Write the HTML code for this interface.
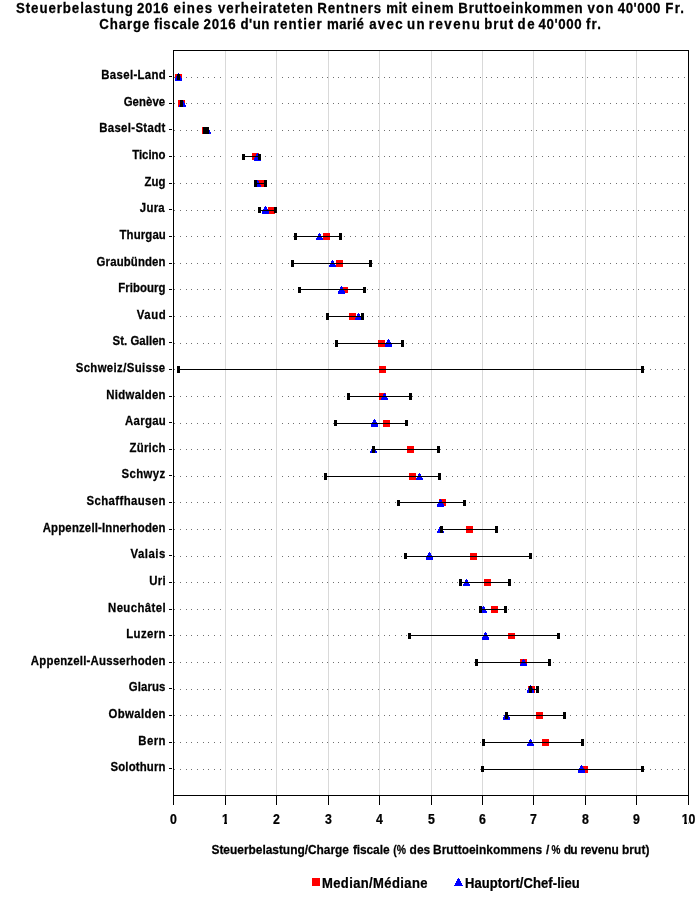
<!DOCTYPE html><html><head><meta charset="utf-8"><title>Steuerbelastung 2016</title><style>html,body{margin:0;padding:0;background:#fff;}svg{display:block;will-change:transform;}text{font-family:"Liberation Sans",Arial,sans-serif;font-weight:bold;fill:#000;stroke:#000;stroke-width:0.25px;}</style></head><body>
<svg width="700" height="900" viewBox="0 0 700 900">
<rect x="0" y="0" width="700" height="900" fill="#fff"/>
<text transform="scale(0.95 1)" x="16.82" y="13" font-size="14" textLength="123.05" lengthAdjust="spacing">Steuerbelastung</text>
<text transform="scale(0.95 1)" x="144.14" y="13" font-size="14" textLength="33.03" lengthAdjust="spacing">2016</text>
<text transform="scale(0.95 1)" x="182.60" y="13" font-size="14" textLength="40.65" lengthAdjust="spacing">eines</text>
<text transform="scale(0.95 1)" x="229.52" y="13" font-size="14" textLength="99.80" lengthAdjust="spacing">verheirateten</text>
<text transform="scale(0.95 1)" x="333.99" y="13" font-size="14" textLength="67.20" lengthAdjust="spacing">Rentners</text>
<text transform="scale(0.95 1)" x="406.50" y="13" font-size="14" textLength="21.93" lengthAdjust="spacing">mit</text>
<text transform="scale(0.95 1)" x="433.24" y="13" font-size="14" textLength="44.18" lengthAdjust="spacing">einem</text>
<text transform="scale(0.95 1)" x="482.48" y="13" font-size="14" textLength="130.88" lengthAdjust="spacing">Bruttoeinkommen</text>
<text transform="scale(0.95 1)" x="618.56" y="13" font-size="14" textLength="27.19" lengthAdjust="spacing">von</text>
<text transform="scale(0.95 1)" x="650.29" y="13" font-size="14" textLength="45.01" lengthAdjust="spacing">40'000</text>
<text transform="scale(0.95 1)" x="700.25" y="13" font-size="14" textLength="19.81" lengthAdjust="spacing">Fr.</text>
<text transform="scale(0.95 1)" x="104.53" y="28.6" font-size="14" textLength="52.80" lengthAdjust="spacing">Charge</text>
<text transform="scale(0.95 1)" x="162.02" y="28.6" font-size="14" textLength="47.75" lengthAdjust="spacing">fiscale</text>
<text transform="scale(0.95 1)" x="214.21" y="28.6" font-size="14" textLength="33.96" lengthAdjust="spacing">2016</text>
<text transform="scale(0.95 1)" x="253.10" y="28.6" font-size="14" textLength="30.45" lengthAdjust="spacing">d'un</text>
<text transform="scale(0.95 1)" x="288.25" y="28.6" font-size="14" textLength="50.28" lengthAdjust="spacing">rentier</text>
<text transform="scale(0.95 1)" x="344.24" y="28.6" font-size="14" textLength="38.81" lengthAdjust="spacing">marié</text>
<text transform="scale(0.95 1)" x="388.57" y="28.6" font-size="14" textLength="35.29" lengthAdjust="spacing">avec</text>
<text transform="scale(0.95 1)" x="428.55" y="28.6" font-size="14" textLength="18.34" lengthAdjust="spacing">un</text>
<text transform="scale(0.95 1)" x="451.31" y="28.6" font-size="14" textLength="53.71" lengthAdjust="spacing">revenu</text>
<text transform="scale(0.95 1)" x="509.67" y="28.6" font-size="14" textLength="30.40" lengthAdjust="spacing">brut</text>
<text transform="scale(0.95 1)" x="544.82" y="28.6" font-size="14" textLength="17.88" lengthAdjust="spacing">de</text>
<text transform="scale(0.95 1)" x="566.92" y="28.6" font-size="14" textLength="45.25" lengthAdjust="spacing">40'000</text>
<text transform="scale(0.95 1)" x="616.89" y="28.6" font-size="14" textLength="15.67" lengthAdjust="spacing">fr.</text>
<path fill="#707070" shape-rendering="crispEdges" d="M174 77h1v1h-1zM180 77h1v1h-1zM186 77h1v1h-1zM191 77h1v1h-1zM197 77h1v1h-1zM203 77h1v1h-1zM208 77h1v1h-1zM214 77h1v1h-1zM220 77h1v1h-1zM225 77h1v1h-1zM231 77h1v1h-1zM237 77h1v1h-1zM242 77h1v1h-1zM248 77h1v1h-1zM254 77h1v1h-1zM259 77h1v1h-1zM265 77h1v1h-1zM271 77h1v1h-1zM276 77h1v1h-1zM282 77h1v1h-1zM288 77h1v1h-1zM293 77h1v1h-1zM299 77h1v1h-1zM305 77h1v1h-1zM310 77h1v1h-1zM316 77h1v1h-1zM322 77h1v1h-1zM327 77h1v1h-1zM333 77h1v1h-1zM338 77h1v1h-1zM344 77h1v1h-1zM350 77h1v1h-1zM355 77h1v1h-1zM361 77h1v1h-1zM367 77h1v1h-1zM372 77h1v1h-1zM378 77h1v1h-1zM384 77h1v1h-1zM389 77h1v1h-1zM395 77h1v1h-1zM401 77h1v1h-1zM406 77h1v1h-1zM412 77h1v1h-1zM418 77h1v1h-1zM423 77h1v1h-1zM429 77h1v1h-1zM435 77h1v1h-1zM440 77h1v1h-1zM446 77h1v1h-1zM452 77h1v1h-1zM457 77h1v1h-1zM463 77h1v1h-1zM469 77h1v1h-1zM474 77h1v1h-1zM480 77h1v1h-1zM486 77h1v1h-1zM491 77h1v1h-1zM497 77h1v1h-1zM503 77h1v1h-1zM508 77h1v1h-1zM514 77h1v1h-1zM519 77h1v1h-1zM525 77h1v1h-1zM531 77h1v1h-1zM536 77h1v1h-1zM542 77h1v1h-1zM548 77h1v1h-1zM553 77h1v1h-1zM559 77h1v1h-1zM565 77h1v1h-1zM570 77h1v1h-1zM576 77h1v1h-1zM582 77h1v1h-1zM587 77h1v1h-1zM593 77h1v1h-1zM599 77h1v1h-1zM604 77h1v1h-1zM610 77h1v1h-1zM616 77h1v1h-1zM621 77h1v1h-1zM627 77h1v1h-1zM633 77h1v1h-1zM638 77h1v1h-1zM644 77h1v1h-1zM650 77h1v1h-1zM655 77h1v1h-1zM661 77h1v1h-1zM667 77h1v1h-1zM672 77h1v1h-1zM678 77h1v1h-1zM684 77h1v1h-1zM174 103h1v1h-1zM180 103h1v1h-1zM186 103h1v1h-1zM191 103h1v1h-1zM197 103h1v1h-1zM203 103h1v1h-1zM208 103h1v1h-1zM214 103h1v1h-1zM220 103h1v1h-1zM225 103h1v1h-1zM231 103h1v1h-1zM237 103h1v1h-1zM242 103h1v1h-1zM248 103h1v1h-1zM254 103h1v1h-1zM259 103h1v1h-1zM265 103h1v1h-1zM271 103h1v1h-1zM276 103h1v1h-1zM282 103h1v1h-1zM288 103h1v1h-1zM293 103h1v1h-1zM299 103h1v1h-1zM305 103h1v1h-1zM310 103h1v1h-1zM316 103h1v1h-1zM322 103h1v1h-1zM327 103h1v1h-1zM333 103h1v1h-1zM338 103h1v1h-1zM344 103h1v1h-1zM350 103h1v1h-1zM355 103h1v1h-1zM361 103h1v1h-1zM367 103h1v1h-1zM372 103h1v1h-1zM378 103h1v1h-1zM384 103h1v1h-1zM389 103h1v1h-1zM395 103h1v1h-1zM401 103h1v1h-1zM406 103h1v1h-1zM412 103h1v1h-1zM418 103h1v1h-1zM423 103h1v1h-1zM429 103h1v1h-1zM435 103h1v1h-1zM440 103h1v1h-1zM446 103h1v1h-1zM452 103h1v1h-1zM457 103h1v1h-1zM463 103h1v1h-1zM469 103h1v1h-1zM474 103h1v1h-1zM480 103h1v1h-1zM486 103h1v1h-1zM491 103h1v1h-1zM497 103h1v1h-1zM503 103h1v1h-1zM508 103h1v1h-1zM514 103h1v1h-1zM519 103h1v1h-1zM525 103h1v1h-1zM531 103h1v1h-1zM536 103h1v1h-1zM542 103h1v1h-1zM548 103h1v1h-1zM553 103h1v1h-1zM559 103h1v1h-1zM565 103h1v1h-1zM570 103h1v1h-1zM576 103h1v1h-1zM582 103h1v1h-1zM587 103h1v1h-1zM593 103h1v1h-1zM599 103h1v1h-1zM604 103h1v1h-1zM610 103h1v1h-1zM616 103h1v1h-1zM621 103h1v1h-1zM627 103h1v1h-1zM633 103h1v1h-1zM638 103h1v1h-1zM644 103h1v1h-1zM650 103h1v1h-1zM655 103h1v1h-1zM661 103h1v1h-1zM667 103h1v1h-1zM672 103h1v1h-1zM678 103h1v1h-1zM684 103h1v1h-1zM174 130h1v1h-1zM180 130h1v1h-1zM186 130h1v1h-1zM191 130h1v1h-1zM197 130h1v1h-1zM203 130h1v1h-1zM208 130h1v1h-1zM214 130h1v1h-1zM220 130h1v1h-1zM225 130h1v1h-1zM231 130h1v1h-1zM237 130h1v1h-1zM242 130h1v1h-1zM248 130h1v1h-1zM254 130h1v1h-1zM259 130h1v1h-1zM265 130h1v1h-1zM271 130h1v1h-1zM276 130h1v1h-1zM282 130h1v1h-1zM288 130h1v1h-1zM293 130h1v1h-1zM299 130h1v1h-1zM305 130h1v1h-1zM310 130h1v1h-1zM316 130h1v1h-1zM322 130h1v1h-1zM327 130h1v1h-1zM333 130h1v1h-1zM338 130h1v1h-1zM344 130h1v1h-1zM350 130h1v1h-1zM355 130h1v1h-1zM361 130h1v1h-1zM367 130h1v1h-1zM372 130h1v1h-1zM378 130h1v1h-1zM384 130h1v1h-1zM389 130h1v1h-1zM395 130h1v1h-1zM401 130h1v1h-1zM406 130h1v1h-1zM412 130h1v1h-1zM418 130h1v1h-1zM423 130h1v1h-1zM429 130h1v1h-1zM435 130h1v1h-1zM440 130h1v1h-1zM446 130h1v1h-1zM452 130h1v1h-1zM457 130h1v1h-1zM463 130h1v1h-1zM469 130h1v1h-1zM474 130h1v1h-1zM480 130h1v1h-1zM486 130h1v1h-1zM491 130h1v1h-1zM497 130h1v1h-1zM503 130h1v1h-1zM508 130h1v1h-1zM514 130h1v1h-1zM519 130h1v1h-1zM525 130h1v1h-1zM531 130h1v1h-1zM536 130h1v1h-1zM542 130h1v1h-1zM548 130h1v1h-1zM553 130h1v1h-1zM559 130h1v1h-1zM565 130h1v1h-1zM570 130h1v1h-1zM576 130h1v1h-1zM582 130h1v1h-1zM587 130h1v1h-1zM593 130h1v1h-1zM599 130h1v1h-1zM604 130h1v1h-1zM610 130h1v1h-1zM616 130h1v1h-1zM621 130h1v1h-1zM627 130h1v1h-1zM633 130h1v1h-1zM638 130h1v1h-1zM644 130h1v1h-1zM650 130h1v1h-1zM655 130h1v1h-1zM661 130h1v1h-1zM667 130h1v1h-1zM672 130h1v1h-1zM678 130h1v1h-1zM684 130h1v1h-1zM174 156h1v1h-1zM180 156h1v1h-1zM186 156h1v1h-1zM191 156h1v1h-1zM197 156h1v1h-1zM203 156h1v1h-1zM208 156h1v1h-1zM214 156h1v1h-1zM220 156h1v1h-1zM225 156h1v1h-1zM231 156h1v1h-1zM237 156h1v1h-1zM242 156h1v1h-1zM248 156h1v1h-1zM254 156h1v1h-1zM259 156h1v1h-1zM265 156h1v1h-1zM271 156h1v1h-1zM276 156h1v1h-1zM282 156h1v1h-1zM288 156h1v1h-1zM293 156h1v1h-1zM299 156h1v1h-1zM305 156h1v1h-1zM310 156h1v1h-1zM316 156h1v1h-1zM322 156h1v1h-1zM327 156h1v1h-1zM333 156h1v1h-1zM338 156h1v1h-1zM344 156h1v1h-1zM350 156h1v1h-1zM355 156h1v1h-1zM361 156h1v1h-1zM367 156h1v1h-1zM372 156h1v1h-1zM378 156h1v1h-1zM384 156h1v1h-1zM389 156h1v1h-1zM395 156h1v1h-1zM401 156h1v1h-1zM406 156h1v1h-1zM412 156h1v1h-1zM418 156h1v1h-1zM423 156h1v1h-1zM429 156h1v1h-1zM435 156h1v1h-1zM440 156h1v1h-1zM446 156h1v1h-1zM452 156h1v1h-1zM457 156h1v1h-1zM463 156h1v1h-1zM469 156h1v1h-1zM474 156h1v1h-1zM480 156h1v1h-1zM486 156h1v1h-1zM491 156h1v1h-1zM497 156h1v1h-1zM503 156h1v1h-1zM508 156h1v1h-1zM514 156h1v1h-1zM519 156h1v1h-1zM525 156h1v1h-1zM531 156h1v1h-1zM536 156h1v1h-1zM542 156h1v1h-1zM548 156h1v1h-1zM553 156h1v1h-1zM559 156h1v1h-1zM565 156h1v1h-1zM570 156h1v1h-1zM576 156h1v1h-1zM582 156h1v1h-1zM587 156h1v1h-1zM593 156h1v1h-1zM599 156h1v1h-1zM604 156h1v1h-1zM610 156h1v1h-1zM616 156h1v1h-1zM621 156h1v1h-1zM627 156h1v1h-1zM633 156h1v1h-1zM638 156h1v1h-1zM644 156h1v1h-1zM650 156h1v1h-1zM655 156h1v1h-1zM661 156h1v1h-1zM667 156h1v1h-1zM672 156h1v1h-1zM678 156h1v1h-1zM684 156h1v1h-1zM174 183h1v1h-1zM180 183h1v1h-1zM186 183h1v1h-1zM191 183h1v1h-1zM197 183h1v1h-1zM203 183h1v1h-1zM208 183h1v1h-1zM214 183h1v1h-1zM220 183h1v1h-1zM225 183h1v1h-1zM231 183h1v1h-1zM237 183h1v1h-1zM242 183h1v1h-1zM248 183h1v1h-1zM254 183h1v1h-1zM259 183h1v1h-1zM265 183h1v1h-1zM271 183h1v1h-1zM276 183h1v1h-1zM282 183h1v1h-1zM288 183h1v1h-1zM293 183h1v1h-1zM299 183h1v1h-1zM305 183h1v1h-1zM310 183h1v1h-1zM316 183h1v1h-1zM322 183h1v1h-1zM327 183h1v1h-1zM333 183h1v1h-1zM338 183h1v1h-1zM344 183h1v1h-1zM350 183h1v1h-1zM355 183h1v1h-1zM361 183h1v1h-1zM367 183h1v1h-1zM372 183h1v1h-1zM378 183h1v1h-1zM384 183h1v1h-1zM389 183h1v1h-1zM395 183h1v1h-1zM401 183h1v1h-1zM406 183h1v1h-1zM412 183h1v1h-1zM418 183h1v1h-1zM423 183h1v1h-1zM429 183h1v1h-1zM435 183h1v1h-1zM440 183h1v1h-1zM446 183h1v1h-1zM452 183h1v1h-1zM457 183h1v1h-1zM463 183h1v1h-1zM469 183h1v1h-1zM474 183h1v1h-1zM480 183h1v1h-1zM486 183h1v1h-1zM491 183h1v1h-1zM497 183h1v1h-1zM503 183h1v1h-1zM508 183h1v1h-1zM514 183h1v1h-1zM519 183h1v1h-1zM525 183h1v1h-1zM531 183h1v1h-1zM536 183h1v1h-1zM542 183h1v1h-1zM548 183h1v1h-1zM553 183h1v1h-1zM559 183h1v1h-1zM565 183h1v1h-1zM570 183h1v1h-1zM576 183h1v1h-1zM582 183h1v1h-1zM587 183h1v1h-1zM593 183h1v1h-1zM599 183h1v1h-1zM604 183h1v1h-1zM610 183h1v1h-1zM616 183h1v1h-1zM621 183h1v1h-1zM627 183h1v1h-1zM633 183h1v1h-1zM638 183h1v1h-1zM644 183h1v1h-1zM650 183h1v1h-1zM655 183h1v1h-1zM661 183h1v1h-1zM667 183h1v1h-1zM672 183h1v1h-1zM678 183h1v1h-1zM684 183h1v1h-1zM174 210h1v1h-1zM180 210h1v1h-1zM186 210h1v1h-1zM191 210h1v1h-1zM197 210h1v1h-1zM203 210h1v1h-1zM208 210h1v1h-1zM214 210h1v1h-1zM220 210h1v1h-1zM225 210h1v1h-1zM231 210h1v1h-1zM237 210h1v1h-1zM242 210h1v1h-1zM248 210h1v1h-1zM254 210h1v1h-1zM259 210h1v1h-1zM265 210h1v1h-1zM271 210h1v1h-1zM276 210h1v1h-1zM282 210h1v1h-1zM288 210h1v1h-1zM293 210h1v1h-1zM299 210h1v1h-1zM305 210h1v1h-1zM310 210h1v1h-1zM316 210h1v1h-1zM322 210h1v1h-1zM327 210h1v1h-1zM333 210h1v1h-1zM338 210h1v1h-1zM344 210h1v1h-1zM350 210h1v1h-1zM355 210h1v1h-1zM361 210h1v1h-1zM367 210h1v1h-1zM372 210h1v1h-1zM378 210h1v1h-1zM384 210h1v1h-1zM389 210h1v1h-1zM395 210h1v1h-1zM401 210h1v1h-1zM406 210h1v1h-1zM412 210h1v1h-1zM418 210h1v1h-1zM423 210h1v1h-1zM429 210h1v1h-1zM435 210h1v1h-1zM440 210h1v1h-1zM446 210h1v1h-1zM452 210h1v1h-1zM457 210h1v1h-1zM463 210h1v1h-1zM469 210h1v1h-1zM474 210h1v1h-1zM480 210h1v1h-1zM486 210h1v1h-1zM491 210h1v1h-1zM497 210h1v1h-1zM503 210h1v1h-1zM508 210h1v1h-1zM514 210h1v1h-1zM519 210h1v1h-1zM525 210h1v1h-1zM531 210h1v1h-1zM536 210h1v1h-1zM542 210h1v1h-1zM548 210h1v1h-1zM553 210h1v1h-1zM559 210h1v1h-1zM565 210h1v1h-1zM570 210h1v1h-1zM576 210h1v1h-1zM582 210h1v1h-1zM587 210h1v1h-1zM593 210h1v1h-1zM599 210h1v1h-1zM604 210h1v1h-1zM610 210h1v1h-1zM616 210h1v1h-1zM621 210h1v1h-1zM627 210h1v1h-1zM633 210h1v1h-1zM638 210h1v1h-1zM644 210h1v1h-1zM650 210h1v1h-1zM655 210h1v1h-1zM661 210h1v1h-1zM667 210h1v1h-1zM672 210h1v1h-1zM678 210h1v1h-1zM684 210h1v1h-1zM174 236h1v1h-1zM180 236h1v1h-1zM186 236h1v1h-1zM191 236h1v1h-1zM197 236h1v1h-1zM203 236h1v1h-1zM208 236h1v1h-1zM214 236h1v1h-1zM220 236h1v1h-1zM225 236h1v1h-1zM231 236h1v1h-1zM237 236h1v1h-1zM242 236h1v1h-1zM248 236h1v1h-1zM254 236h1v1h-1zM259 236h1v1h-1zM265 236h1v1h-1zM271 236h1v1h-1zM276 236h1v1h-1zM282 236h1v1h-1zM288 236h1v1h-1zM293 236h1v1h-1zM299 236h1v1h-1zM305 236h1v1h-1zM310 236h1v1h-1zM316 236h1v1h-1zM322 236h1v1h-1zM327 236h1v1h-1zM333 236h1v1h-1zM338 236h1v1h-1zM344 236h1v1h-1zM350 236h1v1h-1zM355 236h1v1h-1zM361 236h1v1h-1zM367 236h1v1h-1zM372 236h1v1h-1zM378 236h1v1h-1zM384 236h1v1h-1zM389 236h1v1h-1zM395 236h1v1h-1zM401 236h1v1h-1zM406 236h1v1h-1zM412 236h1v1h-1zM418 236h1v1h-1zM423 236h1v1h-1zM429 236h1v1h-1zM435 236h1v1h-1zM440 236h1v1h-1zM446 236h1v1h-1zM452 236h1v1h-1zM457 236h1v1h-1zM463 236h1v1h-1zM469 236h1v1h-1zM474 236h1v1h-1zM480 236h1v1h-1zM486 236h1v1h-1zM491 236h1v1h-1zM497 236h1v1h-1zM503 236h1v1h-1zM508 236h1v1h-1zM514 236h1v1h-1zM519 236h1v1h-1zM525 236h1v1h-1zM531 236h1v1h-1zM536 236h1v1h-1zM542 236h1v1h-1zM548 236h1v1h-1zM553 236h1v1h-1zM559 236h1v1h-1zM565 236h1v1h-1zM570 236h1v1h-1zM576 236h1v1h-1zM582 236h1v1h-1zM587 236h1v1h-1zM593 236h1v1h-1zM599 236h1v1h-1zM604 236h1v1h-1zM610 236h1v1h-1zM616 236h1v1h-1zM621 236h1v1h-1zM627 236h1v1h-1zM633 236h1v1h-1zM638 236h1v1h-1zM644 236h1v1h-1zM650 236h1v1h-1zM655 236h1v1h-1zM661 236h1v1h-1zM667 236h1v1h-1zM672 236h1v1h-1zM678 236h1v1h-1zM684 236h1v1h-1zM174 263h1v1h-1zM180 263h1v1h-1zM186 263h1v1h-1zM191 263h1v1h-1zM197 263h1v1h-1zM203 263h1v1h-1zM208 263h1v1h-1zM214 263h1v1h-1zM220 263h1v1h-1zM225 263h1v1h-1zM231 263h1v1h-1zM237 263h1v1h-1zM242 263h1v1h-1zM248 263h1v1h-1zM254 263h1v1h-1zM259 263h1v1h-1zM265 263h1v1h-1zM271 263h1v1h-1zM276 263h1v1h-1zM282 263h1v1h-1zM288 263h1v1h-1zM293 263h1v1h-1zM299 263h1v1h-1zM305 263h1v1h-1zM310 263h1v1h-1zM316 263h1v1h-1zM322 263h1v1h-1zM327 263h1v1h-1zM333 263h1v1h-1zM338 263h1v1h-1zM344 263h1v1h-1zM350 263h1v1h-1zM355 263h1v1h-1zM361 263h1v1h-1zM367 263h1v1h-1zM372 263h1v1h-1zM378 263h1v1h-1zM384 263h1v1h-1zM389 263h1v1h-1zM395 263h1v1h-1zM401 263h1v1h-1zM406 263h1v1h-1zM412 263h1v1h-1zM418 263h1v1h-1zM423 263h1v1h-1zM429 263h1v1h-1zM435 263h1v1h-1zM440 263h1v1h-1zM446 263h1v1h-1zM452 263h1v1h-1zM457 263h1v1h-1zM463 263h1v1h-1zM469 263h1v1h-1zM474 263h1v1h-1zM480 263h1v1h-1zM486 263h1v1h-1zM491 263h1v1h-1zM497 263h1v1h-1zM503 263h1v1h-1zM508 263h1v1h-1zM514 263h1v1h-1zM519 263h1v1h-1zM525 263h1v1h-1zM531 263h1v1h-1zM536 263h1v1h-1zM542 263h1v1h-1zM548 263h1v1h-1zM553 263h1v1h-1zM559 263h1v1h-1zM565 263h1v1h-1zM570 263h1v1h-1zM576 263h1v1h-1zM582 263h1v1h-1zM587 263h1v1h-1zM593 263h1v1h-1zM599 263h1v1h-1zM604 263h1v1h-1zM610 263h1v1h-1zM616 263h1v1h-1zM621 263h1v1h-1zM627 263h1v1h-1zM633 263h1v1h-1zM638 263h1v1h-1zM644 263h1v1h-1zM650 263h1v1h-1zM655 263h1v1h-1zM661 263h1v1h-1zM667 263h1v1h-1zM672 263h1v1h-1zM678 263h1v1h-1zM684 263h1v1h-1zM174 289h1v1h-1zM180 289h1v1h-1zM186 289h1v1h-1zM191 289h1v1h-1zM197 289h1v1h-1zM203 289h1v1h-1zM208 289h1v1h-1zM214 289h1v1h-1zM220 289h1v1h-1zM225 289h1v1h-1zM231 289h1v1h-1zM237 289h1v1h-1zM242 289h1v1h-1zM248 289h1v1h-1zM254 289h1v1h-1zM259 289h1v1h-1zM265 289h1v1h-1zM271 289h1v1h-1zM276 289h1v1h-1zM282 289h1v1h-1zM288 289h1v1h-1zM293 289h1v1h-1zM299 289h1v1h-1zM305 289h1v1h-1zM310 289h1v1h-1zM316 289h1v1h-1zM322 289h1v1h-1zM327 289h1v1h-1zM333 289h1v1h-1zM338 289h1v1h-1zM344 289h1v1h-1zM350 289h1v1h-1zM355 289h1v1h-1zM361 289h1v1h-1zM367 289h1v1h-1zM372 289h1v1h-1zM378 289h1v1h-1zM384 289h1v1h-1zM389 289h1v1h-1zM395 289h1v1h-1zM401 289h1v1h-1zM406 289h1v1h-1zM412 289h1v1h-1zM418 289h1v1h-1zM423 289h1v1h-1zM429 289h1v1h-1zM435 289h1v1h-1zM440 289h1v1h-1zM446 289h1v1h-1zM452 289h1v1h-1zM457 289h1v1h-1zM463 289h1v1h-1zM469 289h1v1h-1zM474 289h1v1h-1zM480 289h1v1h-1zM486 289h1v1h-1zM491 289h1v1h-1zM497 289h1v1h-1zM503 289h1v1h-1zM508 289h1v1h-1zM514 289h1v1h-1zM519 289h1v1h-1zM525 289h1v1h-1zM531 289h1v1h-1zM536 289h1v1h-1zM542 289h1v1h-1zM548 289h1v1h-1zM553 289h1v1h-1zM559 289h1v1h-1zM565 289h1v1h-1zM570 289h1v1h-1zM576 289h1v1h-1zM582 289h1v1h-1zM587 289h1v1h-1zM593 289h1v1h-1zM599 289h1v1h-1zM604 289h1v1h-1zM610 289h1v1h-1zM616 289h1v1h-1zM621 289h1v1h-1zM627 289h1v1h-1zM633 289h1v1h-1zM638 289h1v1h-1zM644 289h1v1h-1zM650 289h1v1h-1zM655 289h1v1h-1zM661 289h1v1h-1zM667 289h1v1h-1zM672 289h1v1h-1zM678 289h1v1h-1zM684 289h1v1h-1zM174 316h1v1h-1zM180 316h1v1h-1zM186 316h1v1h-1zM191 316h1v1h-1zM197 316h1v1h-1zM203 316h1v1h-1zM208 316h1v1h-1zM214 316h1v1h-1zM220 316h1v1h-1zM225 316h1v1h-1zM231 316h1v1h-1zM237 316h1v1h-1zM242 316h1v1h-1zM248 316h1v1h-1zM254 316h1v1h-1zM259 316h1v1h-1zM265 316h1v1h-1zM271 316h1v1h-1zM276 316h1v1h-1zM282 316h1v1h-1zM288 316h1v1h-1zM293 316h1v1h-1zM299 316h1v1h-1zM305 316h1v1h-1zM310 316h1v1h-1zM316 316h1v1h-1zM322 316h1v1h-1zM327 316h1v1h-1zM333 316h1v1h-1zM338 316h1v1h-1zM344 316h1v1h-1zM350 316h1v1h-1zM355 316h1v1h-1zM361 316h1v1h-1zM367 316h1v1h-1zM372 316h1v1h-1zM378 316h1v1h-1zM384 316h1v1h-1zM389 316h1v1h-1zM395 316h1v1h-1zM401 316h1v1h-1zM406 316h1v1h-1zM412 316h1v1h-1zM418 316h1v1h-1zM423 316h1v1h-1zM429 316h1v1h-1zM435 316h1v1h-1zM440 316h1v1h-1zM446 316h1v1h-1zM452 316h1v1h-1zM457 316h1v1h-1zM463 316h1v1h-1zM469 316h1v1h-1zM474 316h1v1h-1zM480 316h1v1h-1zM486 316h1v1h-1zM491 316h1v1h-1zM497 316h1v1h-1zM503 316h1v1h-1zM508 316h1v1h-1zM514 316h1v1h-1zM519 316h1v1h-1zM525 316h1v1h-1zM531 316h1v1h-1zM536 316h1v1h-1zM542 316h1v1h-1zM548 316h1v1h-1zM553 316h1v1h-1zM559 316h1v1h-1zM565 316h1v1h-1zM570 316h1v1h-1zM576 316h1v1h-1zM582 316h1v1h-1zM587 316h1v1h-1zM593 316h1v1h-1zM599 316h1v1h-1zM604 316h1v1h-1zM610 316h1v1h-1zM616 316h1v1h-1zM621 316h1v1h-1zM627 316h1v1h-1zM633 316h1v1h-1zM638 316h1v1h-1zM644 316h1v1h-1zM650 316h1v1h-1zM655 316h1v1h-1zM661 316h1v1h-1zM667 316h1v1h-1zM672 316h1v1h-1zM678 316h1v1h-1zM684 316h1v1h-1zM174 343h1v1h-1zM180 343h1v1h-1zM186 343h1v1h-1zM191 343h1v1h-1zM197 343h1v1h-1zM203 343h1v1h-1zM208 343h1v1h-1zM214 343h1v1h-1zM220 343h1v1h-1zM225 343h1v1h-1zM231 343h1v1h-1zM237 343h1v1h-1zM242 343h1v1h-1zM248 343h1v1h-1zM254 343h1v1h-1zM259 343h1v1h-1zM265 343h1v1h-1zM271 343h1v1h-1zM276 343h1v1h-1zM282 343h1v1h-1zM288 343h1v1h-1zM293 343h1v1h-1zM299 343h1v1h-1zM305 343h1v1h-1zM310 343h1v1h-1zM316 343h1v1h-1zM322 343h1v1h-1zM327 343h1v1h-1zM333 343h1v1h-1zM338 343h1v1h-1zM344 343h1v1h-1zM350 343h1v1h-1zM355 343h1v1h-1zM361 343h1v1h-1zM367 343h1v1h-1zM372 343h1v1h-1zM378 343h1v1h-1zM384 343h1v1h-1zM389 343h1v1h-1zM395 343h1v1h-1zM401 343h1v1h-1zM406 343h1v1h-1zM412 343h1v1h-1zM418 343h1v1h-1zM423 343h1v1h-1zM429 343h1v1h-1zM435 343h1v1h-1zM440 343h1v1h-1zM446 343h1v1h-1zM452 343h1v1h-1zM457 343h1v1h-1zM463 343h1v1h-1zM469 343h1v1h-1zM474 343h1v1h-1zM480 343h1v1h-1zM486 343h1v1h-1zM491 343h1v1h-1zM497 343h1v1h-1zM503 343h1v1h-1zM508 343h1v1h-1zM514 343h1v1h-1zM519 343h1v1h-1zM525 343h1v1h-1zM531 343h1v1h-1zM536 343h1v1h-1zM542 343h1v1h-1zM548 343h1v1h-1zM553 343h1v1h-1zM559 343h1v1h-1zM565 343h1v1h-1zM570 343h1v1h-1zM576 343h1v1h-1zM582 343h1v1h-1zM587 343h1v1h-1zM593 343h1v1h-1zM599 343h1v1h-1zM604 343h1v1h-1zM610 343h1v1h-1zM616 343h1v1h-1zM621 343h1v1h-1zM627 343h1v1h-1zM633 343h1v1h-1zM638 343h1v1h-1zM644 343h1v1h-1zM650 343h1v1h-1zM655 343h1v1h-1zM661 343h1v1h-1zM667 343h1v1h-1zM672 343h1v1h-1zM678 343h1v1h-1zM684 343h1v1h-1zM174 369h1v1h-1zM180 369h1v1h-1zM186 369h1v1h-1zM191 369h1v1h-1zM197 369h1v1h-1zM203 369h1v1h-1zM208 369h1v1h-1zM214 369h1v1h-1zM220 369h1v1h-1zM225 369h1v1h-1zM231 369h1v1h-1zM237 369h1v1h-1zM242 369h1v1h-1zM248 369h1v1h-1zM254 369h1v1h-1zM259 369h1v1h-1zM265 369h1v1h-1zM271 369h1v1h-1zM276 369h1v1h-1zM282 369h1v1h-1zM288 369h1v1h-1zM293 369h1v1h-1zM299 369h1v1h-1zM305 369h1v1h-1zM310 369h1v1h-1zM316 369h1v1h-1zM322 369h1v1h-1zM327 369h1v1h-1zM333 369h1v1h-1zM338 369h1v1h-1zM344 369h1v1h-1zM350 369h1v1h-1zM355 369h1v1h-1zM361 369h1v1h-1zM367 369h1v1h-1zM372 369h1v1h-1zM378 369h1v1h-1zM384 369h1v1h-1zM389 369h1v1h-1zM395 369h1v1h-1zM401 369h1v1h-1zM406 369h1v1h-1zM412 369h1v1h-1zM418 369h1v1h-1zM423 369h1v1h-1zM429 369h1v1h-1zM435 369h1v1h-1zM440 369h1v1h-1zM446 369h1v1h-1zM452 369h1v1h-1zM457 369h1v1h-1zM463 369h1v1h-1zM469 369h1v1h-1zM474 369h1v1h-1zM480 369h1v1h-1zM486 369h1v1h-1zM491 369h1v1h-1zM497 369h1v1h-1zM503 369h1v1h-1zM508 369h1v1h-1zM514 369h1v1h-1zM519 369h1v1h-1zM525 369h1v1h-1zM531 369h1v1h-1zM536 369h1v1h-1zM542 369h1v1h-1zM548 369h1v1h-1zM553 369h1v1h-1zM559 369h1v1h-1zM565 369h1v1h-1zM570 369h1v1h-1zM576 369h1v1h-1zM582 369h1v1h-1zM587 369h1v1h-1zM593 369h1v1h-1zM599 369h1v1h-1zM604 369h1v1h-1zM610 369h1v1h-1zM616 369h1v1h-1zM621 369h1v1h-1zM627 369h1v1h-1zM633 369h1v1h-1zM638 369h1v1h-1zM644 369h1v1h-1zM650 369h1v1h-1zM655 369h1v1h-1zM661 369h1v1h-1zM667 369h1v1h-1zM672 369h1v1h-1zM678 369h1v1h-1zM684 369h1v1h-1zM174 396h1v1h-1zM180 396h1v1h-1zM186 396h1v1h-1zM191 396h1v1h-1zM197 396h1v1h-1zM203 396h1v1h-1zM208 396h1v1h-1zM214 396h1v1h-1zM220 396h1v1h-1zM225 396h1v1h-1zM231 396h1v1h-1zM237 396h1v1h-1zM242 396h1v1h-1zM248 396h1v1h-1zM254 396h1v1h-1zM259 396h1v1h-1zM265 396h1v1h-1zM271 396h1v1h-1zM276 396h1v1h-1zM282 396h1v1h-1zM288 396h1v1h-1zM293 396h1v1h-1zM299 396h1v1h-1zM305 396h1v1h-1zM310 396h1v1h-1zM316 396h1v1h-1zM322 396h1v1h-1zM327 396h1v1h-1zM333 396h1v1h-1zM338 396h1v1h-1zM344 396h1v1h-1zM350 396h1v1h-1zM355 396h1v1h-1zM361 396h1v1h-1zM367 396h1v1h-1zM372 396h1v1h-1zM378 396h1v1h-1zM384 396h1v1h-1zM389 396h1v1h-1zM395 396h1v1h-1zM401 396h1v1h-1zM406 396h1v1h-1zM412 396h1v1h-1zM418 396h1v1h-1zM423 396h1v1h-1zM429 396h1v1h-1zM435 396h1v1h-1zM440 396h1v1h-1zM446 396h1v1h-1zM452 396h1v1h-1zM457 396h1v1h-1zM463 396h1v1h-1zM469 396h1v1h-1zM474 396h1v1h-1zM480 396h1v1h-1zM486 396h1v1h-1zM491 396h1v1h-1zM497 396h1v1h-1zM503 396h1v1h-1zM508 396h1v1h-1zM514 396h1v1h-1zM519 396h1v1h-1zM525 396h1v1h-1zM531 396h1v1h-1zM536 396h1v1h-1zM542 396h1v1h-1zM548 396h1v1h-1zM553 396h1v1h-1zM559 396h1v1h-1zM565 396h1v1h-1zM570 396h1v1h-1zM576 396h1v1h-1zM582 396h1v1h-1zM587 396h1v1h-1zM593 396h1v1h-1zM599 396h1v1h-1zM604 396h1v1h-1zM610 396h1v1h-1zM616 396h1v1h-1zM621 396h1v1h-1zM627 396h1v1h-1zM633 396h1v1h-1zM638 396h1v1h-1zM644 396h1v1h-1zM650 396h1v1h-1zM655 396h1v1h-1zM661 396h1v1h-1zM667 396h1v1h-1zM672 396h1v1h-1zM678 396h1v1h-1zM684 396h1v1h-1zM174 423h1v1h-1zM180 423h1v1h-1zM186 423h1v1h-1zM191 423h1v1h-1zM197 423h1v1h-1zM203 423h1v1h-1zM208 423h1v1h-1zM214 423h1v1h-1zM220 423h1v1h-1zM225 423h1v1h-1zM231 423h1v1h-1zM237 423h1v1h-1zM242 423h1v1h-1zM248 423h1v1h-1zM254 423h1v1h-1zM259 423h1v1h-1zM265 423h1v1h-1zM271 423h1v1h-1zM276 423h1v1h-1zM282 423h1v1h-1zM288 423h1v1h-1zM293 423h1v1h-1zM299 423h1v1h-1zM305 423h1v1h-1zM310 423h1v1h-1zM316 423h1v1h-1zM322 423h1v1h-1zM327 423h1v1h-1zM333 423h1v1h-1zM338 423h1v1h-1zM344 423h1v1h-1zM350 423h1v1h-1zM355 423h1v1h-1zM361 423h1v1h-1zM367 423h1v1h-1zM372 423h1v1h-1zM378 423h1v1h-1zM384 423h1v1h-1zM389 423h1v1h-1zM395 423h1v1h-1zM401 423h1v1h-1zM406 423h1v1h-1zM412 423h1v1h-1zM418 423h1v1h-1zM423 423h1v1h-1zM429 423h1v1h-1zM435 423h1v1h-1zM440 423h1v1h-1zM446 423h1v1h-1zM452 423h1v1h-1zM457 423h1v1h-1zM463 423h1v1h-1zM469 423h1v1h-1zM474 423h1v1h-1zM480 423h1v1h-1zM486 423h1v1h-1zM491 423h1v1h-1zM497 423h1v1h-1zM503 423h1v1h-1zM508 423h1v1h-1zM514 423h1v1h-1zM519 423h1v1h-1zM525 423h1v1h-1zM531 423h1v1h-1zM536 423h1v1h-1zM542 423h1v1h-1zM548 423h1v1h-1zM553 423h1v1h-1zM559 423h1v1h-1zM565 423h1v1h-1zM570 423h1v1h-1zM576 423h1v1h-1zM582 423h1v1h-1zM587 423h1v1h-1zM593 423h1v1h-1zM599 423h1v1h-1zM604 423h1v1h-1zM610 423h1v1h-1zM616 423h1v1h-1zM621 423h1v1h-1zM627 423h1v1h-1zM633 423h1v1h-1zM638 423h1v1h-1zM644 423h1v1h-1zM650 423h1v1h-1zM655 423h1v1h-1zM661 423h1v1h-1zM667 423h1v1h-1zM672 423h1v1h-1zM678 423h1v1h-1zM684 423h1v1h-1zM174 449h1v1h-1zM180 449h1v1h-1zM186 449h1v1h-1zM191 449h1v1h-1zM197 449h1v1h-1zM203 449h1v1h-1zM208 449h1v1h-1zM214 449h1v1h-1zM220 449h1v1h-1zM225 449h1v1h-1zM231 449h1v1h-1zM237 449h1v1h-1zM242 449h1v1h-1zM248 449h1v1h-1zM254 449h1v1h-1zM259 449h1v1h-1zM265 449h1v1h-1zM271 449h1v1h-1zM276 449h1v1h-1zM282 449h1v1h-1zM288 449h1v1h-1zM293 449h1v1h-1zM299 449h1v1h-1zM305 449h1v1h-1zM310 449h1v1h-1zM316 449h1v1h-1zM322 449h1v1h-1zM327 449h1v1h-1zM333 449h1v1h-1zM338 449h1v1h-1zM344 449h1v1h-1zM350 449h1v1h-1zM355 449h1v1h-1zM361 449h1v1h-1zM367 449h1v1h-1zM372 449h1v1h-1zM378 449h1v1h-1zM384 449h1v1h-1zM389 449h1v1h-1zM395 449h1v1h-1zM401 449h1v1h-1zM406 449h1v1h-1zM412 449h1v1h-1zM418 449h1v1h-1zM423 449h1v1h-1zM429 449h1v1h-1zM435 449h1v1h-1zM440 449h1v1h-1zM446 449h1v1h-1zM452 449h1v1h-1zM457 449h1v1h-1zM463 449h1v1h-1zM469 449h1v1h-1zM474 449h1v1h-1zM480 449h1v1h-1zM486 449h1v1h-1zM491 449h1v1h-1zM497 449h1v1h-1zM503 449h1v1h-1zM508 449h1v1h-1zM514 449h1v1h-1zM519 449h1v1h-1zM525 449h1v1h-1zM531 449h1v1h-1zM536 449h1v1h-1zM542 449h1v1h-1zM548 449h1v1h-1zM553 449h1v1h-1zM559 449h1v1h-1zM565 449h1v1h-1zM570 449h1v1h-1zM576 449h1v1h-1zM582 449h1v1h-1zM587 449h1v1h-1zM593 449h1v1h-1zM599 449h1v1h-1zM604 449h1v1h-1zM610 449h1v1h-1zM616 449h1v1h-1zM621 449h1v1h-1zM627 449h1v1h-1zM633 449h1v1h-1zM638 449h1v1h-1zM644 449h1v1h-1zM650 449h1v1h-1zM655 449h1v1h-1zM661 449h1v1h-1zM667 449h1v1h-1zM672 449h1v1h-1zM678 449h1v1h-1zM684 449h1v1h-1zM174 476h1v1h-1zM180 476h1v1h-1zM186 476h1v1h-1zM191 476h1v1h-1zM197 476h1v1h-1zM203 476h1v1h-1zM208 476h1v1h-1zM214 476h1v1h-1zM220 476h1v1h-1zM225 476h1v1h-1zM231 476h1v1h-1zM237 476h1v1h-1zM242 476h1v1h-1zM248 476h1v1h-1zM254 476h1v1h-1zM259 476h1v1h-1zM265 476h1v1h-1zM271 476h1v1h-1zM276 476h1v1h-1zM282 476h1v1h-1zM288 476h1v1h-1zM293 476h1v1h-1zM299 476h1v1h-1zM305 476h1v1h-1zM310 476h1v1h-1zM316 476h1v1h-1zM322 476h1v1h-1zM327 476h1v1h-1zM333 476h1v1h-1zM338 476h1v1h-1zM344 476h1v1h-1zM350 476h1v1h-1zM355 476h1v1h-1zM361 476h1v1h-1zM367 476h1v1h-1zM372 476h1v1h-1zM378 476h1v1h-1zM384 476h1v1h-1zM389 476h1v1h-1zM395 476h1v1h-1zM401 476h1v1h-1zM406 476h1v1h-1zM412 476h1v1h-1zM418 476h1v1h-1zM423 476h1v1h-1zM429 476h1v1h-1zM435 476h1v1h-1zM440 476h1v1h-1zM446 476h1v1h-1zM452 476h1v1h-1zM457 476h1v1h-1zM463 476h1v1h-1zM469 476h1v1h-1zM474 476h1v1h-1zM480 476h1v1h-1zM486 476h1v1h-1zM491 476h1v1h-1zM497 476h1v1h-1zM503 476h1v1h-1zM508 476h1v1h-1zM514 476h1v1h-1zM519 476h1v1h-1zM525 476h1v1h-1zM531 476h1v1h-1zM536 476h1v1h-1zM542 476h1v1h-1zM548 476h1v1h-1zM553 476h1v1h-1zM559 476h1v1h-1zM565 476h1v1h-1zM570 476h1v1h-1zM576 476h1v1h-1zM582 476h1v1h-1zM587 476h1v1h-1zM593 476h1v1h-1zM599 476h1v1h-1zM604 476h1v1h-1zM610 476h1v1h-1zM616 476h1v1h-1zM621 476h1v1h-1zM627 476h1v1h-1zM633 476h1v1h-1zM638 476h1v1h-1zM644 476h1v1h-1zM650 476h1v1h-1zM655 476h1v1h-1zM661 476h1v1h-1zM667 476h1v1h-1zM672 476h1v1h-1zM678 476h1v1h-1zM684 476h1v1h-1zM174 502h1v1h-1zM180 502h1v1h-1zM186 502h1v1h-1zM191 502h1v1h-1zM197 502h1v1h-1zM203 502h1v1h-1zM208 502h1v1h-1zM214 502h1v1h-1zM220 502h1v1h-1zM225 502h1v1h-1zM231 502h1v1h-1zM237 502h1v1h-1zM242 502h1v1h-1zM248 502h1v1h-1zM254 502h1v1h-1zM259 502h1v1h-1zM265 502h1v1h-1zM271 502h1v1h-1zM276 502h1v1h-1zM282 502h1v1h-1zM288 502h1v1h-1zM293 502h1v1h-1zM299 502h1v1h-1zM305 502h1v1h-1zM310 502h1v1h-1zM316 502h1v1h-1zM322 502h1v1h-1zM327 502h1v1h-1zM333 502h1v1h-1zM338 502h1v1h-1zM344 502h1v1h-1zM350 502h1v1h-1zM355 502h1v1h-1zM361 502h1v1h-1zM367 502h1v1h-1zM372 502h1v1h-1zM378 502h1v1h-1zM384 502h1v1h-1zM389 502h1v1h-1zM395 502h1v1h-1zM401 502h1v1h-1zM406 502h1v1h-1zM412 502h1v1h-1zM418 502h1v1h-1zM423 502h1v1h-1zM429 502h1v1h-1zM435 502h1v1h-1zM440 502h1v1h-1zM446 502h1v1h-1zM452 502h1v1h-1zM457 502h1v1h-1zM463 502h1v1h-1zM469 502h1v1h-1zM474 502h1v1h-1zM480 502h1v1h-1zM486 502h1v1h-1zM491 502h1v1h-1zM497 502h1v1h-1zM503 502h1v1h-1zM508 502h1v1h-1zM514 502h1v1h-1zM519 502h1v1h-1zM525 502h1v1h-1zM531 502h1v1h-1zM536 502h1v1h-1zM542 502h1v1h-1zM548 502h1v1h-1zM553 502h1v1h-1zM559 502h1v1h-1zM565 502h1v1h-1zM570 502h1v1h-1zM576 502h1v1h-1zM582 502h1v1h-1zM587 502h1v1h-1zM593 502h1v1h-1zM599 502h1v1h-1zM604 502h1v1h-1zM610 502h1v1h-1zM616 502h1v1h-1zM621 502h1v1h-1zM627 502h1v1h-1zM633 502h1v1h-1zM638 502h1v1h-1zM644 502h1v1h-1zM650 502h1v1h-1zM655 502h1v1h-1zM661 502h1v1h-1zM667 502h1v1h-1zM672 502h1v1h-1zM678 502h1v1h-1zM684 502h1v1h-1zM174 529h1v1h-1zM180 529h1v1h-1zM186 529h1v1h-1zM191 529h1v1h-1zM197 529h1v1h-1zM203 529h1v1h-1zM208 529h1v1h-1zM214 529h1v1h-1zM220 529h1v1h-1zM225 529h1v1h-1zM231 529h1v1h-1zM237 529h1v1h-1zM242 529h1v1h-1zM248 529h1v1h-1zM254 529h1v1h-1zM259 529h1v1h-1zM265 529h1v1h-1zM271 529h1v1h-1zM276 529h1v1h-1zM282 529h1v1h-1zM288 529h1v1h-1zM293 529h1v1h-1zM299 529h1v1h-1zM305 529h1v1h-1zM310 529h1v1h-1zM316 529h1v1h-1zM322 529h1v1h-1zM327 529h1v1h-1zM333 529h1v1h-1zM338 529h1v1h-1zM344 529h1v1h-1zM350 529h1v1h-1zM355 529h1v1h-1zM361 529h1v1h-1zM367 529h1v1h-1zM372 529h1v1h-1zM378 529h1v1h-1zM384 529h1v1h-1zM389 529h1v1h-1zM395 529h1v1h-1zM401 529h1v1h-1zM406 529h1v1h-1zM412 529h1v1h-1zM418 529h1v1h-1zM423 529h1v1h-1zM429 529h1v1h-1zM435 529h1v1h-1zM440 529h1v1h-1zM446 529h1v1h-1zM452 529h1v1h-1zM457 529h1v1h-1zM463 529h1v1h-1zM469 529h1v1h-1zM474 529h1v1h-1zM480 529h1v1h-1zM486 529h1v1h-1zM491 529h1v1h-1zM497 529h1v1h-1zM503 529h1v1h-1zM508 529h1v1h-1zM514 529h1v1h-1zM519 529h1v1h-1zM525 529h1v1h-1zM531 529h1v1h-1zM536 529h1v1h-1zM542 529h1v1h-1zM548 529h1v1h-1zM553 529h1v1h-1zM559 529h1v1h-1zM565 529h1v1h-1zM570 529h1v1h-1zM576 529h1v1h-1zM582 529h1v1h-1zM587 529h1v1h-1zM593 529h1v1h-1zM599 529h1v1h-1zM604 529h1v1h-1zM610 529h1v1h-1zM616 529h1v1h-1zM621 529h1v1h-1zM627 529h1v1h-1zM633 529h1v1h-1zM638 529h1v1h-1zM644 529h1v1h-1zM650 529h1v1h-1zM655 529h1v1h-1zM661 529h1v1h-1zM667 529h1v1h-1zM672 529h1v1h-1zM678 529h1v1h-1zM684 529h1v1h-1zM174 556h1v1h-1zM180 556h1v1h-1zM186 556h1v1h-1zM191 556h1v1h-1zM197 556h1v1h-1zM203 556h1v1h-1zM208 556h1v1h-1zM214 556h1v1h-1zM220 556h1v1h-1zM225 556h1v1h-1zM231 556h1v1h-1zM237 556h1v1h-1zM242 556h1v1h-1zM248 556h1v1h-1zM254 556h1v1h-1zM259 556h1v1h-1zM265 556h1v1h-1zM271 556h1v1h-1zM276 556h1v1h-1zM282 556h1v1h-1zM288 556h1v1h-1zM293 556h1v1h-1zM299 556h1v1h-1zM305 556h1v1h-1zM310 556h1v1h-1zM316 556h1v1h-1zM322 556h1v1h-1zM327 556h1v1h-1zM333 556h1v1h-1zM338 556h1v1h-1zM344 556h1v1h-1zM350 556h1v1h-1zM355 556h1v1h-1zM361 556h1v1h-1zM367 556h1v1h-1zM372 556h1v1h-1zM378 556h1v1h-1zM384 556h1v1h-1zM389 556h1v1h-1zM395 556h1v1h-1zM401 556h1v1h-1zM406 556h1v1h-1zM412 556h1v1h-1zM418 556h1v1h-1zM423 556h1v1h-1zM429 556h1v1h-1zM435 556h1v1h-1zM440 556h1v1h-1zM446 556h1v1h-1zM452 556h1v1h-1zM457 556h1v1h-1zM463 556h1v1h-1zM469 556h1v1h-1zM474 556h1v1h-1zM480 556h1v1h-1zM486 556h1v1h-1zM491 556h1v1h-1zM497 556h1v1h-1zM503 556h1v1h-1zM508 556h1v1h-1zM514 556h1v1h-1zM519 556h1v1h-1zM525 556h1v1h-1zM531 556h1v1h-1zM536 556h1v1h-1zM542 556h1v1h-1zM548 556h1v1h-1zM553 556h1v1h-1zM559 556h1v1h-1zM565 556h1v1h-1zM570 556h1v1h-1zM576 556h1v1h-1zM582 556h1v1h-1zM587 556h1v1h-1zM593 556h1v1h-1zM599 556h1v1h-1zM604 556h1v1h-1zM610 556h1v1h-1zM616 556h1v1h-1zM621 556h1v1h-1zM627 556h1v1h-1zM633 556h1v1h-1zM638 556h1v1h-1zM644 556h1v1h-1zM650 556h1v1h-1zM655 556h1v1h-1zM661 556h1v1h-1zM667 556h1v1h-1zM672 556h1v1h-1zM678 556h1v1h-1zM684 556h1v1h-1zM174 582h1v1h-1zM180 582h1v1h-1zM186 582h1v1h-1zM191 582h1v1h-1zM197 582h1v1h-1zM203 582h1v1h-1zM208 582h1v1h-1zM214 582h1v1h-1zM220 582h1v1h-1zM225 582h1v1h-1zM231 582h1v1h-1zM237 582h1v1h-1zM242 582h1v1h-1zM248 582h1v1h-1zM254 582h1v1h-1zM259 582h1v1h-1zM265 582h1v1h-1zM271 582h1v1h-1zM276 582h1v1h-1zM282 582h1v1h-1zM288 582h1v1h-1zM293 582h1v1h-1zM299 582h1v1h-1zM305 582h1v1h-1zM310 582h1v1h-1zM316 582h1v1h-1zM322 582h1v1h-1zM327 582h1v1h-1zM333 582h1v1h-1zM338 582h1v1h-1zM344 582h1v1h-1zM350 582h1v1h-1zM355 582h1v1h-1zM361 582h1v1h-1zM367 582h1v1h-1zM372 582h1v1h-1zM378 582h1v1h-1zM384 582h1v1h-1zM389 582h1v1h-1zM395 582h1v1h-1zM401 582h1v1h-1zM406 582h1v1h-1zM412 582h1v1h-1zM418 582h1v1h-1zM423 582h1v1h-1zM429 582h1v1h-1zM435 582h1v1h-1zM440 582h1v1h-1zM446 582h1v1h-1zM452 582h1v1h-1zM457 582h1v1h-1zM463 582h1v1h-1zM469 582h1v1h-1zM474 582h1v1h-1zM480 582h1v1h-1zM486 582h1v1h-1zM491 582h1v1h-1zM497 582h1v1h-1zM503 582h1v1h-1zM508 582h1v1h-1zM514 582h1v1h-1zM519 582h1v1h-1zM525 582h1v1h-1zM531 582h1v1h-1zM536 582h1v1h-1zM542 582h1v1h-1zM548 582h1v1h-1zM553 582h1v1h-1zM559 582h1v1h-1zM565 582h1v1h-1zM570 582h1v1h-1zM576 582h1v1h-1zM582 582h1v1h-1zM587 582h1v1h-1zM593 582h1v1h-1zM599 582h1v1h-1zM604 582h1v1h-1zM610 582h1v1h-1zM616 582h1v1h-1zM621 582h1v1h-1zM627 582h1v1h-1zM633 582h1v1h-1zM638 582h1v1h-1zM644 582h1v1h-1zM650 582h1v1h-1zM655 582h1v1h-1zM661 582h1v1h-1zM667 582h1v1h-1zM672 582h1v1h-1zM678 582h1v1h-1zM684 582h1v1h-1zM174 609h1v1h-1zM180 609h1v1h-1zM186 609h1v1h-1zM191 609h1v1h-1zM197 609h1v1h-1zM203 609h1v1h-1zM208 609h1v1h-1zM214 609h1v1h-1zM220 609h1v1h-1zM225 609h1v1h-1zM231 609h1v1h-1zM237 609h1v1h-1zM242 609h1v1h-1zM248 609h1v1h-1zM254 609h1v1h-1zM259 609h1v1h-1zM265 609h1v1h-1zM271 609h1v1h-1zM276 609h1v1h-1zM282 609h1v1h-1zM288 609h1v1h-1zM293 609h1v1h-1zM299 609h1v1h-1zM305 609h1v1h-1zM310 609h1v1h-1zM316 609h1v1h-1zM322 609h1v1h-1zM327 609h1v1h-1zM333 609h1v1h-1zM338 609h1v1h-1zM344 609h1v1h-1zM350 609h1v1h-1zM355 609h1v1h-1zM361 609h1v1h-1zM367 609h1v1h-1zM372 609h1v1h-1zM378 609h1v1h-1zM384 609h1v1h-1zM389 609h1v1h-1zM395 609h1v1h-1zM401 609h1v1h-1zM406 609h1v1h-1zM412 609h1v1h-1zM418 609h1v1h-1zM423 609h1v1h-1zM429 609h1v1h-1zM435 609h1v1h-1zM440 609h1v1h-1zM446 609h1v1h-1zM452 609h1v1h-1zM457 609h1v1h-1zM463 609h1v1h-1zM469 609h1v1h-1zM474 609h1v1h-1zM480 609h1v1h-1zM486 609h1v1h-1zM491 609h1v1h-1zM497 609h1v1h-1zM503 609h1v1h-1zM508 609h1v1h-1zM514 609h1v1h-1zM519 609h1v1h-1zM525 609h1v1h-1zM531 609h1v1h-1zM536 609h1v1h-1zM542 609h1v1h-1zM548 609h1v1h-1zM553 609h1v1h-1zM559 609h1v1h-1zM565 609h1v1h-1zM570 609h1v1h-1zM576 609h1v1h-1zM582 609h1v1h-1zM587 609h1v1h-1zM593 609h1v1h-1zM599 609h1v1h-1zM604 609h1v1h-1zM610 609h1v1h-1zM616 609h1v1h-1zM621 609h1v1h-1zM627 609h1v1h-1zM633 609h1v1h-1zM638 609h1v1h-1zM644 609h1v1h-1zM650 609h1v1h-1zM655 609h1v1h-1zM661 609h1v1h-1zM667 609h1v1h-1zM672 609h1v1h-1zM678 609h1v1h-1zM684 609h1v1h-1zM174 635h1v1h-1zM180 635h1v1h-1zM186 635h1v1h-1zM191 635h1v1h-1zM197 635h1v1h-1zM203 635h1v1h-1zM208 635h1v1h-1zM214 635h1v1h-1zM220 635h1v1h-1zM225 635h1v1h-1zM231 635h1v1h-1zM237 635h1v1h-1zM242 635h1v1h-1zM248 635h1v1h-1zM254 635h1v1h-1zM259 635h1v1h-1zM265 635h1v1h-1zM271 635h1v1h-1zM276 635h1v1h-1zM282 635h1v1h-1zM288 635h1v1h-1zM293 635h1v1h-1zM299 635h1v1h-1zM305 635h1v1h-1zM310 635h1v1h-1zM316 635h1v1h-1zM322 635h1v1h-1zM327 635h1v1h-1zM333 635h1v1h-1zM338 635h1v1h-1zM344 635h1v1h-1zM350 635h1v1h-1zM355 635h1v1h-1zM361 635h1v1h-1zM367 635h1v1h-1zM372 635h1v1h-1zM378 635h1v1h-1zM384 635h1v1h-1zM389 635h1v1h-1zM395 635h1v1h-1zM401 635h1v1h-1zM406 635h1v1h-1zM412 635h1v1h-1zM418 635h1v1h-1zM423 635h1v1h-1zM429 635h1v1h-1zM435 635h1v1h-1zM440 635h1v1h-1zM446 635h1v1h-1zM452 635h1v1h-1zM457 635h1v1h-1zM463 635h1v1h-1zM469 635h1v1h-1zM474 635h1v1h-1zM480 635h1v1h-1zM486 635h1v1h-1zM491 635h1v1h-1zM497 635h1v1h-1zM503 635h1v1h-1zM508 635h1v1h-1zM514 635h1v1h-1zM519 635h1v1h-1zM525 635h1v1h-1zM531 635h1v1h-1zM536 635h1v1h-1zM542 635h1v1h-1zM548 635h1v1h-1zM553 635h1v1h-1zM559 635h1v1h-1zM565 635h1v1h-1zM570 635h1v1h-1zM576 635h1v1h-1zM582 635h1v1h-1zM587 635h1v1h-1zM593 635h1v1h-1zM599 635h1v1h-1zM604 635h1v1h-1zM610 635h1v1h-1zM616 635h1v1h-1zM621 635h1v1h-1zM627 635h1v1h-1zM633 635h1v1h-1zM638 635h1v1h-1zM644 635h1v1h-1zM650 635h1v1h-1zM655 635h1v1h-1zM661 635h1v1h-1zM667 635h1v1h-1zM672 635h1v1h-1zM678 635h1v1h-1zM684 635h1v1h-1zM174 662h1v1h-1zM180 662h1v1h-1zM186 662h1v1h-1zM191 662h1v1h-1zM197 662h1v1h-1zM203 662h1v1h-1zM208 662h1v1h-1zM214 662h1v1h-1zM220 662h1v1h-1zM225 662h1v1h-1zM231 662h1v1h-1zM237 662h1v1h-1zM242 662h1v1h-1zM248 662h1v1h-1zM254 662h1v1h-1zM259 662h1v1h-1zM265 662h1v1h-1zM271 662h1v1h-1zM276 662h1v1h-1zM282 662h1v1h-1zM288 662h1v1h-1zM293 662h1v1h-1zM299 662h1v1h-1zM305 662h1v1h-1zM310 662h1v1h-1zM316 662h1v1h-1zM322 662h1v1h-1zM327 662h1v1h-1zM333 662h1v1h-1zM338 662h1v1h-1zM344 662h1v1h-1zM350 662h1v1h-1zM355 662h1v1h-1zM361 662h1v1h-1zM367 662h1v1h-1zM372 662h1v1h-1zM378 662h1v1h-1zM384 662h1v1h-1zM389 662h1v1h-1zM395 662h1v1h-1zM401 662h1v1h-1zM406 662h1v1h-1zM412 662h1v1h-1zM418 662h1v1h-1zM423 662h1v1h-1zM429 662h1v1h-1zM435 662h1v1h-1zM440 662h1v1h-1zM446 662h1v1h-1zM452 662h1v1h-1zM457 662h1v1h-1zM463 662h1v1h-1zM469 662h1v1h-1zM474 662h1v1h-1zM480 662h1v1h-1zM486 662h1v1h-1zM491 662h1v1h-1zM497 662h1v1h-1zM503 662h1v1h-1zM508 662h1v1h-1zM514 662h1v1h-1zM519 662h1v1h-1zM525 662h1v1h-1zM531 662h1v1h-1zM536 662h1v1h-1zM542 662h1v1h-1zM548 662h1v1h-1zM553 662h1v1h-1zM559 662h1v1h-1zM565 662h1v1h-1zM570 662h1v1h-1zM576 662h1v1h-1zM582 662h1v1h-1zM587 662h1v1h-1zM593 662h1v1h-1zM599 662h1v1h-1zM604 662h1v1h-1zM610 662h1v1h-1zM616 662h1v1h-1zM621 662h1v1h-1zM627 662h1v1h-1zM633 662h1v1h-1zM638 662h1v1h-1zM644 662h1v1h-1zM650 662h1v1h-1zM655 662h1v1h-1zM661 662h1v1h-1zM667 662h1v1h-1zM672 662h1v1h-1zM678 662h1v1h-1zM684 662h1v1h-1zM174 689h1v1h-1zM180 689h1v1h-1zM186 689h1v1h-1zM191 689h1v1h-1zM197 689h1v1h-1zM203 689h1v1h-1zM208 689h1v1h-1zM214 689h1v1h-1zM220 689h1v1h-1zM225 689h1v1h-1zM231 689h1v1h-1zM237 689h1v1h-1zM242 689h1v1h-1zM248 689h1v1h-1zM254 689h1v1h-1zM259 689h1v1h-1zM265 689h1v1h-1zM271 689h1v1h-1zM276 689h1v1h-1zM282 689h1v1h-1zM288 689h1v1h-1zM293 689h1v1h-1zM299 689h1v1h-1zM305 689h1v1h-1zM310 689h1v1h-1zM316 689h1v1h-1zM322 689h1v1h-1zM327 689h1v1h-1zM333 689h1v1h-1zM338 689h1v1h-1zM344 689h1v1h-1zM350 689h1v1h-1zM355 689h1v1h-1zM361 689h1v1h-1zM367 689h1v1h-1zM372 689h1v1h-1zM378 689h1v1h-1zM384 689h1v1h-1zM389 689h1v1h-1zM395 689h1v1h-1zM401 689h1v1h-1zM406 689h1v1h-1zM412 689h1v1h-1zM418 689h1v1h-1zM423 689h1v1h-1zM429 689h1v1h-1zM435 689h1v1h-1zM440 689h1v1h-1zM446 689h1v1h-1zM452 689h1v1h-1zM457 689h1v1h-1zM463 689h1v1h-1zM469 689h1v1h-1zM474 689h1v1h-1zM480 689h1v1h-1zM486 689h1v1h-1zM491 689h1v1h-1zM497 689h1v1h-1zM503 689h1v1h-1zM508 689h1v1h-1zM514 689h1v1h-1zM519 689h1v1h-1zM525 689h1v1h-1zM531 689h1v1h-1zM536 689h1v1h-1zM542 689h1v1h-1zM548 689h1v1h-1zM553 689h1v1h-1zM559 689h1v1h-1zM565 689h1v1h-1zM570 689h1v1h-1zM576 689h1v1h-1zM582 689h1v1h-1zM587 689h1v1h-1zM593 689h1v1h-1zM599 689h1v1h-1zM604 689h1v1h-1zM610 689h1v1h-1zM616 689h1v1h-1zM621 689h1v1h-1zM627 689h1v1h-1zM633 689h1v1h-1zM638 689h1v1h-1zM644 689h1v1h-1zM650 689h1v1h-1zM655 689h1v1h-1zM661 689h1v1h-1zM667 689h1v1h-1zM672 689h1v1h-1zM678 689h1v1h-1zM684 689h1v1h-1zM174 715h1v1h-1zM180 715h1v1h-1zM186 715h1v1h-1zM191 715h1v1h-1zM197 715h1v1h-1zM203 715h1v1h-1zM208 715h1v1h-1zM214 715h1v1h-1zM220 715h1v1h-1zM225 715h1v1h-1zM231 715h1v1h-1zM237 715h1v1h-1zM242 715h1v1h-1zM248 715h1v1h-1zM254 715h1v1h-1zM259 715h1v1h-1zM265 715h1v1h-1zM271 715h1v1h-1zM276 715h1v1h-1zM282 715h1v1h-1zM288 715h1v1h-1zM293 715h1v1h-1zM299 715h1v1h-1zM305 715h1v1h-1zM310 715h1v1h-1zM316 715h1v1h-1zM322 715h1v1h-1zM327 715h1v1h-1zM333 715h1v1h-1zM338 715h1v1h-1zM344 715h1v1h-1zM350 715h1v1h-1zM355 715h1v1h-1zM361 715h1v1h-1zM367 715h1v1h-1zM372 715h1v1h-1zM378 715h1v1h-1zM384 715h1v1h-1zM389 715h1v1h-1zM395 715h1v1h-1zM401 715h1v1h-1zM406 715h1v1h-1zM412 715h1v1h-1zM418 715h1v1h-1zM423 715h1v1h-1zM429 715h1v1h-1zM435 715h1v1h-1zM440 715h1v1h-1zM446 715h1v1h-1zM452 715h1v1h-1zM457 715h1v1h-1zM463 715h1v1h-1zM469 715h1v1h-1zM474 715h1v1h-1zM480 715h1v1h-1zM486 715h1v1h-1zM491 715h1v1h-1zM497 715h1v1h-1zM503 715h1v1h-1zM508 715h1v1h-1zM514 715h1v1h-1zM519 715h1v1h-1zM525 715h1v1h-1zM531 715h1v1h-1zM536 715h1v1h-1zM542 715h1v1h-1zM548 715h1v1h-1zM553 715h1v1h-1zM559 715h1v1h-1zM565 715h1v1h-1zM570 715h1v1h-1zM576 715h1v1h-1zM582 715h1v1h-1zM587 715h1v1h-1zM593 715h1v1h-1zM599 715h1v1h-1zM604 715h1v1h-1zM610 715h1v1h-1zM616 715h1v1h-1zM621 715h1v1h-1zM627 715h1v1h-1zM633 715h1v1h-1zM638 715h1v1h-1zM644 715h1v1h-1zM650 715h1v1h-1zM655 715h1v1h-1zM661 715h1v1h-1zM667 715h1v1h-1zM672 715h1v1h-1zM678 715h1v1h-1zM684 715h1v1h-1zM174 742h1v1h-1zM180 742h1v1h-1zM186 742h1v1h-1zM191 742h1v1h-1zM197 742h1v1h-1zM203 742h1v1h-1zM208 742h1v1h-1zM214 742h1v1h-1zM220 742h1v1h-1zM225 742h1v1h-1zM231 742h1v1h-1zM237 742h1v1h-1zM242 742h1v1h-1zM248 742h1v1h-1zM254 742h1v1h-1zM259 742h1v1h-1zM265 742h1v1h-1zM271 742h1v1h-1zM276 742h1v1h-1zM282 742h1v1h-1zM288 742h1v1h-1zM293 742h1v1h-1zM299 742h1v1h-1zM305 742h1v1h-1zM310 742h1v1h-1zM316 742h1v1h-1zM322 742h1v1h-1zM327 742h1v1h-1zM333 742h1v1h-1zM338 742h1v1h-1zM344 742h1v1h-1zM350 742h1v1h-1zM355 742h1v1h-1zM361 742h1v1h-1zM367 742h1v1h-1zM372 742h1v1h-1zM378 742h1v1h-1zM384 742h1v1h-1zM389 742h1v1h-1zM395 742h1v1h-1zM401 742h1v1h-1zM406 742h1v1h-1zM412 742h1v1h-1zM418 742h1v1h-1zM423 742h1v1h-1zM429 742h1v1h-1zM435 742h1v1h-1zM440 742h1v1h-1zM446 742h1v1h-1zM452 742h1v1h-1zM457 742h1v1h-1zM463 742h1v1h-1zM469 742h1v1h-1zM474 742h1v1h-1zM480 742h1v1h-1zM486 742h1v1h-1zM491 742h1v1h-1zM497 742h1v1h-1zM503 742h1v1h-1zM508 742h1v1h-1zM514 742h1v1h-1zM519 742h1v1h-1zM525 742h1v1h-1zM531 742h1v1h-1zM536 742h1v1h-1zM542 742h1v1h-1zM548 742h1v1h-1zM553 742h1v1h-1zM559 742h1v1h-1zM565 742h1v1h-1zM570 742h1v1h-1zM576 742h1v1h-1zM582 742h1v1h-1zM587 742h1v1h-1zM593 742h1v1h-1zM599 742h1v1h-1zM604 742h1v1h-1zM610 742h1v1h-1zM616 742h1v1h-1zM621 742h1v1h-1zM627 742h1v1h-1zM633 742h1v1h-1zM638 742h1v1h-1zM644 742h1v1h-1zM650 742h1v1h-1zM655 742h1v1h-1zM661 742h1v1h-1zM667 742h1v1h-1zM672 742h1v1h-1zM678 742h1v1h-1zM684 742h1v1h-1zM174 769h1v1h-1zM180 769h1v1h-1zM186 769h1v1h-1zM191 769h1v1h-1zM197 769h1v1h-1zM203 769h1v1h-1zM208 769h1v1h-1zM214 769h1v1h-1zM220 769h1v1h-1zM225 769h1v1h-1zM231 769h1v1h-1zM237 769h1v1h-1zM242 769h1v1h-1zM248 769h1v1h-1zM254 769h1v1h-1zM259 769h1v1h-1zM265 769h1v1h-1zM271 769h1v1h-1zM276 769h1v1h-1zM282 769h1v1h-1zM288 769h1v1h-1zM293 769h1v1h-1zM299 769h1v1h-1zM305 769h1v1h-1zM310 769h1v1h-1zM316 769h1v1h-1zM322 769h1v1h-1zM327 769h1v1h-1zM333 769h1v1h-1zM338 769h1v1h-1zM344 769h1v1h-1zM350 769h1v1h-1zM355 769h1v1h-1zM361 769h1v1h-1zM367 769h1v1h-1zM372 769h1v1h-1zM378 769h1v1h-1zM384 769h1v1h-1zM389 769h1v1h-1zM395 769h1v1h-1zM401 769h1v1h-1zM406 769h1v1h-1zM412 769h1v1h-1zM418 769h1v1h-1zM423 769h1v1h-1zM429 769h1v1h-1zM435 769h1v1h-1zM440 769h1v1h-1zM446 769h1v1h-1zM452 769h1v1h-1zM457 769h1v1h-1zM463 769h1v1h-1zM469 769h1v1h-1zM474 769h1v1h-1zM480 769h1v1h-1zM486 769h1v1h-1zM491 769h1v1h-1zM497 769h1v1h-1zM503 769h1v1h-1zM508 769h1v1h-1zM514 769h1v1h-1zM519 769h1v1h-1zM525 769h1v1h-1zM531 769h1v1h-1zM536 769h1v1h-1zM542 769h1v1h-1zM548 769h1v1h-1zM553 769h1v1h-1zM559 769h1v1h-1zM565 769h1v1h-1zM570 769h1v1h-1zM576 769h1v1h-1zM582 769h1v1h-1zM587 769h1v1h-1zM593 769h1v1h-1zM599 769h1v1h-1zM604 769h1v1h-1zM610 769h1v1h-1zM616 769h1v1h-1zM621 769h1v1h-1zM627 769h1v1h-1zM633 769h1v1h-1zM638 769h1v1h-1zM644 769h1v1h-1zM650 769h1v1h-1zM655 769h1v1h-1zM661 769h1v1h-1zM667 769h1v1h-1zM672 769h1v1h-1zM678 769h1v1h-1zM684 769h1v1h-1z"/>
<g shape-rendering="crispEdges" fill="#d9d9d9">
<rect x="225" y="51" width="1" height="744"/>
<rect x="276" y="51" width="1" height="744"/>
<rect x="328" y="51" width="1" height="744"/>
<rect x="379" y="51" width="1" height="744"/>
<rect x="431" y="51" width="1" height="744"/>
<rect x="482" y="51" width="1" height="744"/>
<rect x="533" y="51" width="1" height="744"/>
<rect x="585" y="51" width="1" height="744"/>
<rect x="636" y="51" width="1" height="744"/>
</g>
<g shape-rendering="crispEdges">
<rect x="175.0" y="74" width="7" height="7" fill="#f00"/>
<polygon points="178,73 178,74 177,74 177,75 177,75 177,76 176,76 176,77 176,77 176,78 175,78 175,79 175,79 175,80 175,80 175,81 182,81 182,80 182,80 182,79 182,79 182,78 181,78 181,77 181,77 181,76 180,76 180,75 180,75 180,74 179,74 179,73" fill="#00f"/>
<rect x="178.5" y="77" width="0.0" height="1" fill="#000"/>
<rect x="177.0" y="74" width="3" height="6" fill="#000"/>
<rect x="177.0" y="74" width="3" height="6" fill="#000"/>
<rect x="178.0" y="100" width="7" height="7" fill="#f00"/>
<polygon points="182,100 182,101 181,101 181,102 181,102 181,103 180,103 180,104 180,104 180,105 179,105 179,106 179,106 179,107 186,107 186,106 186,106 186,105 185,105 185,104 185,104 185,103 184,103 184,102 184,102 184,101 183,101 183,100" fill="#00f"/>
<rect x="181.5" y="103" width="0.0" height="1" fill="#000"/>
<rect x="180.0" y="100" width="3" height="7" fill="#000"/>
<rect x="180.0" y="100" width="3" height="7" fill="#000"/>
<rect x="202.0" y="127" width="7" height="7" fill="#f00"/>
<polygon points="207,127 207,128 206,128 206,129 206,129 206,130 205,130 205,131 205,131 205,132 204,132 204,133 204,133 204,134 211,134 211,133 211,133 211,132 210,132 210,131 210,131 210,130 209,130 209,129 209,129 209,128 208,128 208,127" fill="#00f"/>
<rect x="204.5" y="130" width="3.0" height="1" fill="#000"/>
<rect x="203.0" y="127" width="3" height="7" fill="#000"/>
<rect x="206.0" y="127" width="3" height="7" fill="#000"/>
<rect x="252.0" y="153" width="7" height="7" fill="#f00"/>
<polygon points="257,153 257,154 256,154 256,155 256,155 256,156 255,156 255,157 255,157 255,158 254,158 254,159 254,159 254,160 254,160 254,161 261,161 261,160 261,160 261,159 261,159 261,158 260,158 260,157 260,157 260,156 259,156 259,155 259,155 259,154 258,154 258,153" fill="#00f"/>
<rect x="243.5" y="156" width="16.0" height="1" fill="#000"/>
<rect x="242.0" y="154" width="3" height="6" fill="#000"/>
<rect x="258.0" y="154" width="3" height="6" fill="#000"/>
<rect x="258.0" y="180" width="7" height="7" fill="#f00"/>
<polygon points="257,180 257,181 256,181 256,182 256,182 256,183 255,183 255,184 255,184 255,185 254,185 254,186 254,186 254,187 261,187 261,186 261,186 261,185 260,185 260,184 260,184 260,183 259,183 259,182 259,182 259,181 258,181 258,180" fill="#00f"/>
<rect x="255.5" y="183" width="10.0" height="1" fill="#000"/>
<rect x="254.0" y="180" width="3" height="7" fill="#000"/>
<rect x="264.0" y="180" width="3" height="7" fill="#000"/>
<rect x="268.0" y="207" width="7" height="7" fill="#f00"/>
<polygon points="265,206 265,207 264,207 264,208 264,208 264,209 263,209 263,210 263,210 263,211 262,211 262,212 262,212 262,213 262,213 262,214 269,214 269,213 269,213 269,212 269,212 269,211 268,211 268,210 268,210 268,209 267,209 267,208 267,208 267,207 266,207 266,206" fill="#00f"/>
<rect x="259.5" y="210" width="16.0" height="1" fill="#000"/>
<rect x="258.0" y="207" width="3" height="6" fill="#000"/>
<rect x="274.0" y="207" width="3" height="6" fill="#000"/>
<rect x="323.0" y="233" width="7" height="7" fill="#f00"/>
<polygon points="319,233 319,234 318,234 318,235 318,235 318,236 317,236 317,237 317,237 317,238 316,238 316,239 316,239 316,240 323,240 323,239 323,239 323,238 322,238 322,237 322,237 322,236 321,236 321,235 321,235 321,234 320,234 320,233" fill="#00f"/>
<rect x="295.5" y="236" width="45.0" height="1" fill="#000"/>
<rect x="294.0" y="233" width="3" height="7" fill="#000"/>
<rect x="339.0" y="233" width="3" height="7" fill="#000"/>
<rect x="336.0" y="260" width="7" height="7" fill="#f00"/>
<polygon points="332,260 332,261 331,261 331,262 331,262 331,263 330,263 330,264 330,264 330,265 329,265 329,266 329,266 329,267 336,267 336,266 336,266 336,265 335,265 335,264 335,264 335,263 334,263 334,262 334,262 334,261 333,261 333,260" fill="#00f"/>
<rect x="292.5" y="263" width="78.0" height="1" fill="#000"/>
<rect x="291.0" y="260" width="3" height="7" fill="#000"/>
<rect x="369.0" y="260" width="3" height="7" fill="#000"/>
<rect x="341.0" y="287" width="7" height="6" fill="#f00"/>
<polygon points="341,286 341,287 340,287 340,288 340,288 340,289 339,289 339,290 339,290 339,291 338,291 338,292 338,292 338,293 338,293 338,294 345,294 345,293 345,293 345,292 345,292 345,291 344,291 344,290 344,290 344,289 343,289 343,288 343,288 343,287 342,287 342,286" fill="#00f"/>
<rect x="299.5" y="289" width="65.0" height="1" fill="#000"/>
<rect x="298.0" y="287" width="3" height="6" fill="#000"/>
<rect x="363.0" y="287" width="3" height="6" fill="#000"/>
<rect x="349.0" y="313" width="7" height="7" fill="#f00"/>
<polygon points="358,313 358,314 357,314 357,315 357,315 357,316 356,316 356,317 356,317 356,318 355,318 355,319 355,319 355,320 362,320 362,319 362,319 362,318 361,318 361,317 361,317 361,316 360,316 360,315 360,315 360,314 359,314 359,313" fill="#00f"/>
<rect x="327.5" y="316" width="35.0" height="1" fill="#000"/>
<rect x="326.0" y="313" width="3" height="7" fill="#000"/>
<rect x="361.0" y="313" width="3" height="7" fill="#000"/>
<rect x="378.0" y="340" width="7" height="7" fill="#f00"/>
<polygon points="388,339 388,340 387,340 387,341 387,341 387,342 386,342 386,343 386,343 386,344 385,344 385,345 385,345 385,346 385,346 385,347 392,347 392,346 392,346 392,345 392,345 392,344 391,344 391,343 391,343 391,342 390,342 390,341 390,341 390,340 389,340 389,339" fill="#00f"/>
<rect x="336.5" y="343" width="66.0" height="1" fill="#000"/>
<rect x="335.0" y="340" width="3" height="7" fill="#000"/>
<rect x="401.0" y="340" width="3" height="7" fill="#000"/>
<rect x="379.0" y="366" width="7" height="7" fill="#f00"/>
<rect x="178.5" y="369" width="464.0" height="1" fill="#000"/>
<rect x="177.0" y="366" width="3" height="7" fill="#000"/>
<rect x="641.0" y="366" width="3" height="7" fill="#000"/>
<rect x="379.0" y="393" width="7" height="7" fill="#f00"/>
<polygon points="384,393 384,394 383,394 383,395 383,395 383,396 382,396 382,397 382,397 382,398 381,398 381,399 381,399 381,400 388,400 388,399 388,399 388,398 387,398 387,397 387,397 387,396 386,396 386,395 386,395 386,394 385,394 385,393" fill="#00f"/>
<rect x="348.5" y="396" width="62.0" height="1" fill="#000"/>
<rect x="347.0" y="393" width="3" height="7" fill="#000"/>
<rect x="409.0" y="393" width="3" height="7" fill="#000"/>
<rect x="383.0" y="420" width="7" height="7" fill="#f00"/>
<polygon points="374,419 374,420 373,420 373,421 373,421 373,422 372,422 372,423 372,423 372,424 371,424 371,425 371,425 371,426 371,426 371,427 378,427 378,426 378,426 378,425 378,425 378,424 377,424 377,423 377,423 377,422 376,422 376,421 376,421 376,420 375,420 375,419" fill="#00f"/>
<rect x="335.5" y="423" width="71.0" height="1" fill="#000"/>
<rect x="334.0" y="420" width="3" height="6" fill="#000"/>
<rect x="405.0" y="420" width="3" height="6" fill="#000"/>
<rect x="407.0" y="446" width="7" height="7" fill="#f00"/>
<polygon points="373,446 373,447 372,447 372,448 372,448 372,449 371,449 371,450 371,450 371,451 370,451 370,452 370,452 370,453 377,453 377,452 377,452 377,451 376,451 376,450 376,450 376,449 375,449 375,448 375,448 375,447 374,447 374,446" fill="#00f"/>
<rect x="373.5" y="449" width="65.0" height="1" fill="#000"/>
<rect x="372.0" y="446" width="3" height="7" fill="#000"/>
<rect x="437.0" y="446" width="3" height="7" fill="#000"/>
<rect x="409.0" y="473" width="7" height="7" fill="#f00"/>
<polygon points="419,473 419,474 418,474 418,475 418,475 418,476 417,476 417,477 417,477 417,478 416,478 416,479 416,479 416,480 423,480 423,479 423,479 423,478 422,478 422,477 422,477 422,476 421,476 421,475 421,475 421,474 420,474 420,473" fill="#00f"/>
<rect x="325.5" y="476" width="114.0" height="1" fill="#000"/>
<rect x="324.0" y="473" width="3" height="7" fill="#000"/>
<rect x="438.0" y="473" width="3" height="7" fill="#000"/>
<rect x="439.0" y="499" width="7" height="7" fill="#f00"/>
<polygon points="440,499 440,500 439,500 439,501 439,501 439,502 438,502 438,503 438,503 438,504 437,504 437,505 437,505 437,506 437,506 437,507 444,507 444,506 444,506 444,505 444,505 444,504 443,504 443,503 443,503 443,502 442,502 442,501 442,501 442,500 441,500 441,499" fill="#00f"/>
<rect x="398.5" y="502" width="66.0" height="1" fill="#000"/>
<rect x="397.0" y="500" width="3" height="6" fill="#000"/>
<rect x="463.0" y="500" width="3" height="6" fill="#000"/>
<rect x="466.0" y="526" width="7" height="7" fill="#f00"/>
<polygon points="440,526 440,527 439,527 439,528 439,528 439,529 438,529 438,530 438,530 438,531 437,531 437,532 437,532 437,533 444,533 444,532 444,532 444,531 443,531 443,530 443,530 443,529 442,529 442,528 442,528 442,527 441,527 441,526" fill="#00f"/>
<rect x="441.5" y="529" width="55.0" height="1" fill="#000"/>
<rect x="440.0" y="526" width="3" height="7" fill="#000"/>
<rect x="495.0" y="526" width="3" height="7" fill="#000"/>
<rect x="470.0" y="553" width="7" height="7" fill="#f00"/>
<polygon points="429,552 429,553 428,553 428,554 428,554 428,555 427,555 427,556 427,556 427,557 426,557 426,558 426,558 426,559 426,559 426,560 433,560 433,559 433,559 433,558 433,558 433,557 432,557 432,556 432,556 432,555 431,555 431,554 431,554 431,553 430,553 430,552" fill="#00f"/>
<rect x="405.5" y="556" width="125.0" height="1" fill="#000"/>
<rect x="404.0" y="553" width="3" height="6" fill="#000"/>
<rect x="529.0" y="553" width="3" height="6" fill="#000"/>
<rect x="484.0" y="579" width="7" height="7" fill="#f00"/>
<polygon points="466,579 466,580 465,580 465,581 465,581 465,582 464,582 464,583 464,583 464,584 463,584 463,585 463,585 463,586 470,586 470,585 470,585 470,584 469,584 469,583 469,583 469,582 468,582 468,581 468,581 468,580 467,580 467,579" fill="#00f"/>
<rect x="460.5" y="582" width="49.0" height="1" fill="#000"/>
<rect x="459.0" y="579" width="3" height="7" fill="#000"/>
<rect x="508.0" y="579" width="3" height="7" fill="#000"/>
<rect x="491.0" y="606" width="7" height="7" fill="#f00"/>
<polygon points="483,606 483,607 482,607 482,608 482,608 482,609 481,609 481,610 481,610 481,611 480,611 480,612 480,612 480,613 487,613 487,612 487,612 487,611 486,611 486,610 486,610 486,609 485,609 485,608 485,608 485,607 484,607 484,606" fill="#00f"/>
<rect x="480.5" y="609" width="25.0" height="1" fill="#000"/>
<rect x="479.0" y="606" width="3" height="7" fill="#000"/>
<rect x="504.0" y="606" width="3" height="7" fill="#000"/>
<rect x="508.0" y="633" width="7" height="6" fill="#f00"/>
<polygon points="485,632 485,633 484,633 484,634 484,634 484,635 483,635 483,636 483,636 483,637 482,637 482,638 482,638 482,639 482,639 482,640 489,640 489,639 489,639 489,638 489,638 489,637 488,637 488,636 488,636 488,635 487,635 487,634 487,634 487,633 486,633 486,632" fill="#00f"/>
<rect x="409.5" y="635" width="149.0" height="1" fill="#000"/>
<rect x="408.0" y="633" width="3" height="6" fill="#000"/>
<rect x="557.0" y="633" width="3" height="6" fill="#000"/>
<rect x="520.0" y="659" width="7" height="7" fill="#f00"/>
<polygon points="523,659 523,660 522,660 522,661 522,661 522,662 521,662 521,663 521,663 521,664 520,664 520,665 520,665 520,666 527,666 527,665 527,665 527,664 526,664 526,663 526,663 526,662 525,662 525,661 525,661 525,660 524,660 524,659" fill="#00f"/>
<rect x="476.5" y="662" width="73.0" height="1" fill="#000"/>
<rect x="475.0" y="659" width="3" height="7" fill="#000"/>
<rect x="548.0" y="659" width="3" height="7" fill="#000"/>
<rect x="528.0" y="686" width="7" height="7" fill="#f00"/>
<polygon points="530,685 530,686 529,686 529,687 529,687 529,688 528,688 528,689 528,689 528,690 527,690 527,691 527,691 527,692 527,692 527,693 534,693 534,692 534,692 534,691 534,691 534,690 533,690 533,689 533,689 533,688 532,688 532,687 532,687 532,686 531,686 531,685" fill="#00f"/>
<rect x="530.5" y="689" width="7.0" height="1" fill="#000"/>
<rect x="529.0" y="686" width="3" height="7" fill="#000"/>
<rect x="536.0" y="686" width="3" height="7" fill="#000"/>
<rect x="536.0" y="712" width="7" height="7" fill="#f00"/>
<polygon points="506,712 506,713 505,713 505,714 505,714 505,715 504,715 504,716 504,716 504,717 503,717 503,718 503,718 503,719 503,719 503,720 510,720 510,719 510,719 510,718 510,718 510,717 509,717 509,716 509,716 509,715 508,715 508,714 508,714 508,713 507,713 507,712" fill="#00f"/>
<rect x="506.5" y="715" width="58.0" height="1" fill="#000"/>
<rect x="505.0" y="712" width="3" height="7" fill="#000"/>
<rect x="563.0" y="712" width="3" height="7" fill="#000"/>
<rect x="542.0" y="739" width="7" height="7" fill="#f00"/>
<polygon points="530,739 530,740 529,740 529,741 529,741 529,742 528,742 528,743 528,743 528,744 527,744 527,745 527,745 527,746 534,746 534,745 534,745 534,744 533,744 533,743 533,743 533,742 532,742 532,741 532,741 532,740 531,740 531,739" fill="#00f"/>
<rect x="483.5" y="742" width="99.0" height="1" fill="#000"/>
<rect x="482.0" y="739" width="3" height="7" fill="#000"/>
<rect x="581.0" y="739" width="3" height="7" fill="#000"/>
<rect x="581.0" y="766" width="7" height="7" fill="#f00"/>
<polygon points="581,765 581,766 580,766 580,767 580,767 580,768 579,768 579,769 579,769 579,770 578,770 578,771 578,771 578,772 578,772 578,773 585,773 585,772 585,772 585,771 585,771 585,770 584,770 584,769 584,769 584,768 583,768 583,767 583,767 583,766 582,766 582,765" fill="#00f"/>
<rect x="482.5" y="769" width="160.0" height="1" fill="#000"/>
<rect x="481.0" y="766" width="3" height="6" fill="#000"/>
<rect x="641.0" y="766" width="3" height="6" fill="#000"/>
</g>
<g shape-rendering="crispEdges" fill="#000">
<rect x="173" y="50" width="516" height="1"/>
<rect x="173" y="795" width="516" height="1"/>
<rect x="173" y="50" width="1" height="746"/>
<rect x="688" y="50" width="1" height="746"/>
<rect x="173" y="796" width="1" height="9"/>
<rect x="225" y="796" width="1" height="9"/>
<rect x="276" y="796" width="1" height="9"/>
<rect x="328" y="796" width="1" height="9"/>
<rect x="379" y="796" width="1" height="9"/>
<rect x="431" y="796" width="1" height="9"/>
<rect x="482" y="796" width="1" height="9"/>
<rect x="533" y="796" width="1" height="9"/>
<rect x="585" y="796" width="1" height="9"/>
<rect x="636" y="796" width="1" height="9"/>
<rect x="688" y="796" width="1" height="9"/>
<rect x="169" y="76" width="3" height="1"/>
<rect x="169" y="103" width="3" height="1"/>
<rect x="169" y="129" width="3" height="1"/>
<rect x="169" y="156" width="3" height="1"/>
<rect x="169" y="183" width="3" height="1"/>
<rect x="169" y="209" width="3" height="1"/>
<rect x="169" y="236" width="3" height="1"/>
<rect x="169" y="263" width="3" height="1"/>
<rect x="169" y="289" width="3" height="1"/>
<rect x="169" y="316" width="3" height="1"/>
<rect x="169" y="342" width="3" height="1"/>
<rect x="169" y="369" width="3" height="1"/>
<rect x="169" y="396" width="3" height="1"/>
<rect x="169" y="422" width="3" height="1"/>
<rect x="169" y="449" width="3" height="1"/>
<rect x="169" y="475" width="3" height="1"/>
<rect x="169" y="502" width="3" height="1"/>
<rect x="169" y="529" width="3" height="1"/>
<rect x="169" y="555" width="3" height="1"/>
<rect x="169" y="582" width="3" height="1"/>
<rect x="169" y="609" width="3" height="1"/>
<rect x="169" y="635" width="3" height="1"/>
<rect x="169" y="662" width="3" height="1"/>
<rect x="169" y="688" width="3" height="1"/>
<rect x="169" y="715" width="3" height="1"/>
<rect x="169" y="742" width="3" height="1"/>
<rect x="169" y="768" width="3" height="1"/>
</g>
<text transform="scale(0.95 1)" x="174.57" y="79" font-size="12" text-anchor="end" textLength="67.99" lengthAdjust="spacing">Basel-Land</text>
<text transform="scale(0.95 1)" x="173.93" y="106" font-size="12" text-anchor="end" textLength="43.71" lengthAdjust="spacing">Genève</text>
<text transform="scale(0.95 1)" x="173.95" y="132" font-size="12" text-anchor="end" textLength="69.57" lengthAdjust="spacing">Basel-Stadt</text>
<text transform="scale(0.95 1)" x="174.11" y="159" font-size="12" text-anchor="end" textLength="34.92" lengthAdjust="spacing">Ticino</text>
<text transform="scale(0.95 1)" x="174.21" y="186" font-size="12" text-anchor="end" textLength="22.22" lengthAdjust="spacing">Zug</text>
<text transform="scale(0.95 1)" x="173.38" y="212" font-size="12" text-anchor="end" textLength="26.15" lengthAdjust="spacing">Jura</text>
<text transform="scale(0.95 1)" x="174.56" y="239" font-size="12" text-anchor="end" textLength="48.78" lengthAdjust="spacing">Thurgau</text>
<text transform="scale(0.95 1)" x="174.28" y="266" font-size="12" text-anchor="end" textLength="72.65" lengthAdjust="spacing">Graubünden</text>
<text transform="scale(0.95 1)" x="174.21" y="292" font-size="12" text-anchor="end" textLength="49.75" lengthAdjust="spacing">Fribourg</text>
<text transform="scale(0.95 1)" x="174.57" y="319" font-size="12" text-anchor="end" textLength="30.62" lengthAdjust="spacing">Vaud</text>
<text transform="scale(0.95 1)" x="174.28" y="345" font-size="12" text-anchor="end" textLength="55.84" lengthAdjust="spacing">St. Gallen</text>
<text transform="scale(0.95 1)" x="173.93" y="372" font-size="12" text-anchor="end" textLength="94.25" lengthAdjust="spacing">Schweiz/Suisse</text>
<text transform="scale(0.95 1)" x="174.28" y="399" font-size="12" text-anchor="end" textLength="62.32" lengthAdjust="spacing">Nidwalden</text>
<text transform="scale(0.95 1)" x="174.56" y="425" font-size="12" text-anchor="end" textLength="43.04" lengthAdjust="spacing">Aargau</text>
<text transform="scale(0.95 1)" x="174.28" y="452" font-size="12" text-anchor="end" textLength="37.94" lengthAdjust="spacing">Zürich</text>
<text transform="scale(0.95 1)" x="174.02" y="478" font-size="12" text-anchor="end" textLength="46.16" lengthAdjust="spacing">Schwyz</text>
<text transform="scale(0.95 1)" x="174.28" y="505" font-size="12" text-anchor="end" textLength="83.34" lengthAdjust="spacing">Schaffhausen</text>
<text transform="scale(0.95 1)" x="174.28" y="532" font-size="12" text-anchor="end" textLength="129.30" lengthAdjust="spacing">Appenzell-Innerhoden</text>
<text transform="scale(0.95 1)" x="174.11" y="558" font-size="12" text-anchor="end" textLength="36.85" lengthAdjust="spacing">Valais</text>
<text transform="scale(0.95 1)" x="174.47" y="585" font-size="12" text-anchor="end" textLength="17.36" lengthAdjust="spacing">Uri</text>
<text transform="scale(0.95 1)" x="174.36" y="612" font-size="12" text-anchor="end" textLength="60.67" lengthAdjust="spacing">Neuchâtel</text>
<text transform="scale(0.95 1)" x="174.28" y="638" font-size="12" text-anchor="end" textLength="41.35" lengthAdjust="spacing">Luzern</text>
<text transform="scale(0.95 1)" x="174.28" y="665" font-size="12" text-anchor="end" textLength="141.79" lengthAdjust="spacing">Appenzell-Ausserhoden</text>
<text transform="scale(0.95 1)" x="174.11" y="691" font-size="12" text-anchor="end" textLength="38.64" lengthAdjust="spacing">Glarus</text>
<text transform="scale(0.95 1)" x="174.28" y="718" font-size="12" text-anchor="end" textLength="59.99" lengthAdjust="spacing">Obwalden</text>
<text transform="scale(0.95 1)" x="174.28" y="745" font-size="12" text-anchor="end" textLength="28.67" lengthAdjust="spacing">Bern</text>
<text transform="scale(0.95 1)" x="174.28" y="771" font-size="12" text-anchor="end" textLength="58.02" lengthAdjust="spacing">Solothurn</text>
<defs><clipPath id="c1" clipPathUnits="userSpaceOnUse"><rect x="200" y="800" width="50" height="21.7"/><rect x="224.1" y="821.7" width="2.9" height="10"/></clipPath><clipPath id="c10" clipPathUnits="userSpaceOnUse"><rect x="660" y="800" width="40" height="21.7"/><rect x="684.1" y="821.7" width="2.9" height="10"/><rect x="688.3" y="800" width="12" height="40"/></clipPath></defs>
<g><text transform="scale(0.88 1)" x="197.16" y="824" font-size="14" text-anchor="middle">0</text></g>
<g clip-path="url(#c1)"><text transform="scale(0.88 1)" x="256.25" y="824" font-size="14" text-anchor="middle">1</text></g>
<g><text transform="scale(0.88 1)" x="314.20" y="824" font-size="14" text-anchor="middle">2</text></g>
<g><text transform="scale(0.88 1)" x="373.30" y="824" font-size="14" text-anchor="middle">3</text></g>
<g><text transform="scale(0.88 1)" x="431.25" y="824" font-size="14" text-anchor="middle">4</text></g>
<g><text transform="scale(0.88 1)" x="490.34" y="824" font-size="14" text-anchor="middle">5</text></g>
<g><text transform="scale(0.88 1)" x="548.30" y="824" font-size="14" text-anchor="middle">6</text></g>
<g><text transform="scale(0.88 1)" x="606.25" y="824" font-size="14" text-anchor="middle">7</text></g>
<g><text transform="scale(0.88 1)" x="665.34" y="824" font-size="14" text-anchor="middle">8</text></g>
<g><text transform="scale(0.88 1)" x="723.30" y="824" font-size="14" text-anchor="middle">9</text></g>
<g clip-path="url(#c10)"><text transform="scale(0.88 1)" x="782.39" y="824" font-size="14" text-anchor="middle">10</text></g>
<text transform="scale(0.92 1)" x="229.88" y="854" font-size="13" textLength="149.51" lengthAdjust="spacing">Steuerbelastung/Charge</text>
<text transform="scale(0.92 1)" x="383.61" y="854" font-size="13" textLength="39.81" lengthAdjust="spacing">fiscale</text>
<text transform="scale(0.92 1)" x="427.43" y="854" font-size="13" textLength="13.83" lengthAdjust="spacingAndGlyphs">(%</text>
<text transform="scale(0.92 1)" x="445.14" y="854" font-size="13" textLength="22.53" lengthAdjust="spacing">des</text>
<text transform="scale(0.92 1)" x="470.70" y="854" font-size="13" textLength="118.59" lengthAdjust="spacing">Bruttoeinkommens</text>
<text transform="scale(0.92 1)" x="593.48" y="854" font-size="13">/</text>
<text transform="scale(0.77 1)" x="716.36" y="854" font-size="13">%</text>
<text transform="scale(0.92 1)" x="612.70" y="854" font-size="13" textLength="15.01" lengthAdjust="spacing">du</text>
<text transform="scale(0.92 1)" x="630.85" y="854" font-size="13" textLength="41.70" lengthAdjust="spacing">revenu</text>
<text transform="scale(0.92 1)" x="676.01" y="854" font-size="13" textLength="30.09" lengthAdjust="spacing">brut)</text>
<rect x="312" y="878" width="8" height="8" fill="#f00" shape-rendering="crispEdges"/>
<text transform="scale(0.93 1)" x="346.21" y="888" font-size="14" textLength="113.44" lengthAdjust="spacing">Median/Médiane</text>
<polygon points="458,878 458,879 457,879 457,880 457,880 457,881 456,881 456,882 456,882 456,883 455,883 455,884 455,884 455,885 454,885 454,886 463,886 463,885 462,885 462,884 462,884 462,883 461,883 461,882 461,882 461,881 460,881 460,880 460,880 460,879 459,879 459,878" fill="#00f"/>
<text transform="scale(0.93 1)" x="499.97" y="888" font-size="14" textLength="123.48" lengthAdjust="spacing">Hauptort/Chef-lieu</text>
</svg></body></html>
